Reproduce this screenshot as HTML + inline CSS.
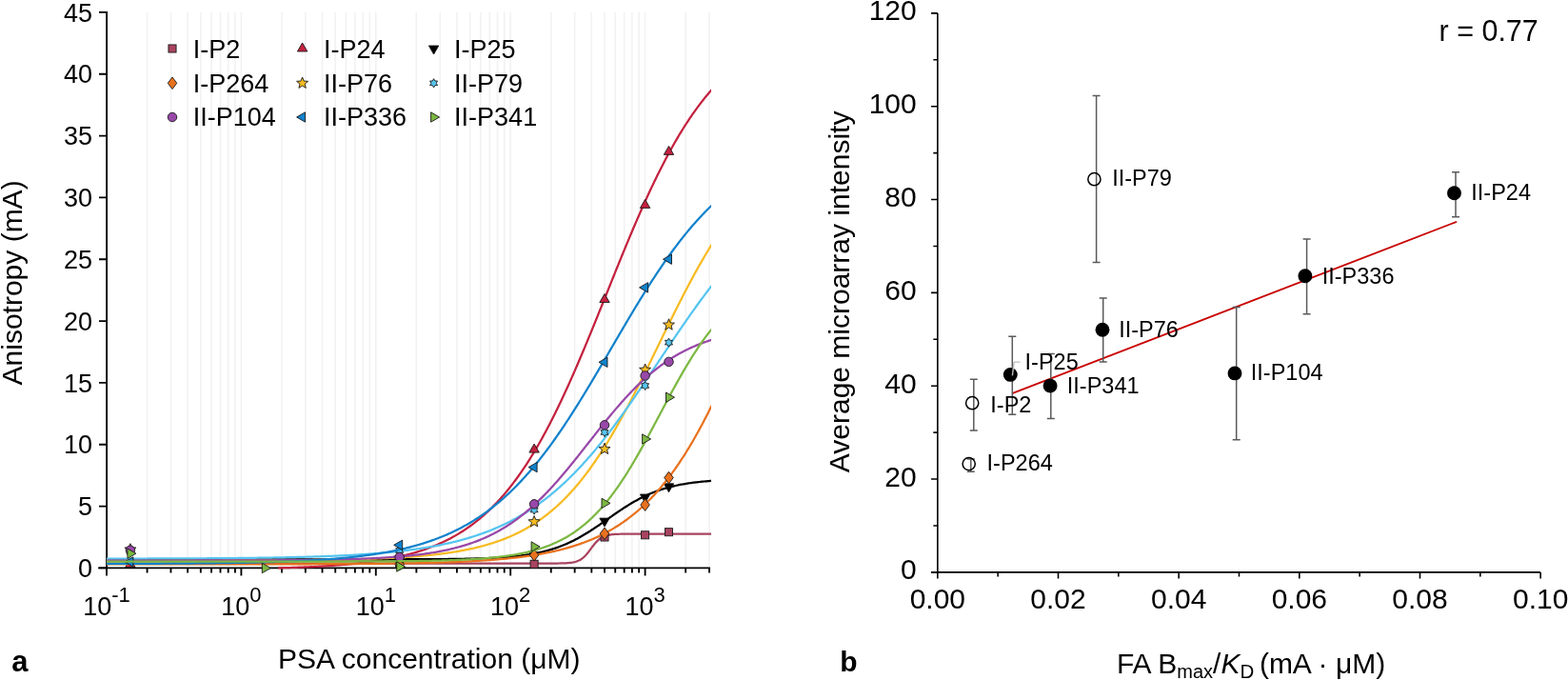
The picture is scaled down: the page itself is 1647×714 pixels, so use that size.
<!DOCTYPE html>
<html><head><meta charset="utf-8"><title>Figure</title><style>html,body{margin:0;padding:0;background:#fff;width:1647px;height:714px;overflow:hidden}</style></head><body>
<svg width="1647" height="714" viewBox="0 0 1647 714" style="display:block">
<rect width="1647" height="714" fill="#fff"/>
<defs><clipPath id="lc"><rect x="112.00" y="9.88" width="635.00" height="591.51"/></clipPath></defs>
<path d="M154.57 12.88V596.40M179.46 12.88V596.40M197.13 12.88V596.40M210.83 12.88V596.40M222.03 12.88V596.40M231.50 12.88V596.40M239.70 12.88V596.40M246.93 12.88V596.40M253.40 12.88V596.40M295.97 12.88V596.40M320.86 12.88V596.40M338.53 12.88V596.40M352.23 12.88V596.40M363.43 12.88V596.40M372.90 12.88V596.40M381.10 12.88V596.40M388.33 12.88V596.40M394.80 12.88V596.40M437.37 12.88V596.40M462.26 12.88V596.40M479.93 12.88V596.40M493.63 12.88V596.40M504.83 12.88V596.40M514.30 12.88V596.40M522.50 12.88V596.40M529.73 12.88V596.40M536.20 12.88V596.40M578.77 12.88V596.40M603.66 12.88V596.40M621.33 12.88V596.40M635.03 12.88V596.40M646.23 12.88V596.40M655.70 12.88V596.40M663.90 12.88V596.40M671.13 12.88V596.40M677.60 12.88V596.40M720.17 12.88V596.40M745.06 12.88V596.40" stroke="#f2f2f2" stroke-width="1.6" fill="none"/>
<rect x="176.95" y="46.95" width="8.10" height="8.10" fill="#a8445f" stroke="#1a1a1a" stroke-width="0.9"/>
<text x="202.7" y="61.2" font-family="'Liberation Sans', Arial, Helvetica, sans-serif" font-size="27">I-P2</text>
<polygon points="317.60,45.00 322.80,54.00 312.40,54.00" fill="#c4213f" stroke="#1a1a1a" stroke-width="0.9" stroke-linejoin="miter"/>
<text x="339.9" y="61.2" font-family="'Liberation Sans', Arial, Helvetica, sans-serif" font-size="27">I-P24</text>
<polygon points="455.60,57.00 460.80,48.00 450.40,48.00" fill="#000000" stroke="#1a1a1a" stroke-width="0.9" stroke-linejoin="miter"/>
<text x="477.1" y="61.2" font-family="'Liberation Sans', Arial, Helvetica, sans-serif" font-size="27">I-P25</text>
<polygon points="181.00,81.00 185.75,87.30 181.00,93.60 176.25,87.30" fill="#e9711d" stroke="#1a1a1a" stroke-width="0.9" stroke-linejoin="miter"/>
<text x="202.7" y="96.8" font-family="'Liberation Sans', Arial, Helvetica, sans-serif" font-size="27">I-P264</text>
<polygon points="317.60,81.00 319.22,85.08 323.59,85.35 320.22,88.15 321.30,92.40 317.60,90.05 313.90,92.40 314.98,88.15 311.61,85.35 315.98,85.08" fill="#f7bb22" stroke="#1a1a1a" stroke-width="0.9" stroke-linejoin="miter"/>
<text x="339.9" y="96.8" font-family="'Liberation Sans', Arial, Helvetica, sans-serif" font-size="27">II-P76</text>
<polygon points="455.60,82.70 456.93,85.01 459.58,85.00 458.25,87.30 459.58,89.60 456.93,89.59 455.60,91.90 454.28,89.59 451.62,89.60 452.95,87.30 451.62,85.00 454.28,85.01" fill="#56c5f0" stroke="#1a1a1a" stroke-width="0.9" stroke-linejoin="miter"/>
<text x="477.1" y="96.8" font-family="'Liberation Sans', Arial, Helvetica, sans-serif" font-size="27">II-P79</text>
<circle cx="181.00" cy="123.00" r="4.75" fill="#9848a8" stroke="#1a1a1a" stroke-width="0.9"/>
<text x="202.7" y="132.4" font-family="'Liberation Sans', Arial, Helvetica, sans-serif" font-size="27">II-P104</text>
<polygon points="311.60,123.00 320.60,117.80 320.60,128.20" fill="#1282cc" stroke="#1a1a1a" stroke-width="0.9" stroke-linejoin="miter"/>
<text x="339.9" y="132.4" font-family="'Liberation Sans', Arial, Helvetica, sans-serif" font-size="27">II-P336</text>
<polygon points="461.60,123.00 452.60,117.80 452.60,128.20" fill="#7cb842" stroke="#1a1a1a" stroke-width="0.9" stroke-linejoin="miter"/>
<text x="477.1" y="132.4" font-family="'Liberation Sans', Arial, Helvetica, sans-serif" font-size="27">II-P341</text>
<path d="M112.10 12.88V596.40M104.00 596.40H745.06" stroke="#000" stroke-width="1.85" fill="none" stroke-linecap="square"/>
<path d="M104.00 596.40H112.00M104.00 531.56H112.00M104.00 466.73H112.00M104.00 401.89H112.00M104.00 337.06H112.00M104.00 272.22H112.00M104.00 207.39H112.00M104.00 142.55H112.00M104.00 77.72H112.00M104.00 12.88H112.00M112.00 596.40V604.50M154.57 596.40V601.40M179.46 596.40V601.40M197.13 596.40V601.40M210.83 596.40V601.40M222.03 596.40V601.40M231.50 596.40V601.40M239.70 596.40V601.40M246.93 596.40V601.40M253.40 596.40V604.50M295.97 596.40V601.40M320.86 596.40V601.40M338.53 596.40V601.40M352.23 596.40V601.40M363.43 596.40V601.40M372.90 596.40V601.40M381.10 596.40V601.40M388.33 596.40V601.40M394.80 596.40V604.50M437.37 596.40V601.40M462.26 596.40V601.40M479.93 596.40V601.40M493.63 596.40V601.40M504.83 596.40V601.40M514.30 596.40V601.40M522.50 596.40V601.40M529.73 596.40V601.40M536.20 596.40V604.50M578.77 596.40V601.40M603.66 596.40V601.40M621.33 596.40V601.40M635.03 596.40V601.40M646.23 596.40V601.40M655.70 596.40V601.40M663.90 596.40V601.40M671.13 596.40V601.40M677.60 596.40V604.50M720.17 596.40V601.40M745.06 596.40V601.40" stroke="#000" stroke-width="1.85" fill="none"/>
<g>
<path d="M112.00 591.58 L113.27 591.58 L114.55 591.58 L115.82 591.58 L117.09 591.58 L118.37 591.58 L119.64 591.58 L120.91 591.58 L122.19 591.58 L123.46 591.58 L124.74 591.58 L126.01 591.58 L127.28 591.58 L128.56 591.58 L129.83 591.58 L131.10 591.58 L132.38 591.58 L133.65 591.58 L134.92 591.58 L136.20 591.58 L137.47 591.58 L138.74 591.58 L140.02 591.58 L141.29 591.58 L142.57 591.58 L143.84 591.58 L145.11 591.58 L146.39 591.58 L147.66 591.58 L148.93 591.58 L150.21 591.58 L151.48 591.58 L152.75 591.58 L154.03 591.58 L155.30 591.58 L156.57 591.58 L157.85 591.58 L159.12 591.58 L160.39 591.58 L161.67 591.58 L162.94 591.58 L164.22 591.58 L165.49 591.58 L166.76 591.58 L168.04 591.58 L169.31 591.58 L170.58 591.58 L171.86 591.58 L173.13 591.58 L174.40 591.58 L175.68 591.58 L176.95 591.58 L178.22 591.58 L179.50 591.58 L180.77 591.58 L182.05 591.58 L183.32 591.58 L184.59 591.58 L185.87 591.58 L187.14 591.58 L188.41 591.58 L189.69 591.58 L190.96 591.58 L192.23 591.58 L193.51 591.58 L194.78 591.58 L196.05 591.58 L197.33 591.58 L198.60 591.58 L199.87 591.58 L201.15 591.58 L202.42 591.58 L203.70 591.58 L204.97 591.58 L206.24 591.58 L207.52 591.58 L208.79 591.58 L210.06 591.58 L211.34 591.58 L212.61 591.58 L213.88 591.58 L215.16 591.58 L216.43 591.58 L217.70 591.58 L218.98 591.58 L220.25 591.58 L221.53 591.58 L222.80 591.58 L224.07 591.58 L225.35 591.58 L226.62 591.58 L227.89 591.58 L229.17 591.58 L230.44 591.58 L231.71 591.58 L232.99 591.58 L234.26 591.58 L235.53 591.58 L236.81 591.58 L238.08 591.58 L239.35 591.58 L240.63 591.58 L241.90 591.58 L243.18 591.58 L244.45 591.58 L245.72 591.58 L247.00 591.58 L248.27 591.58 L249.54 591.58 L250.82 591.58 L252.09 591.58 L253.36 591.58 L254.64 591.58 L255.91 591.58 L257.18 591.58 L258.46 591.58 L259.73 591.58 L261.01 591.58 L262.28 591.58 L263.55 591.58 L264.83 591.58 L266.10 591.58 L267.37 591.58 L268.65 591.58 L269.92 591.58 L271.19 591.58 L272.47 591.58 L273.74 591.58 L275.01 591.58 L276.29 591.58 L277.56 591.58 L278.83 591.58 L280.11 591.58 L281.38 591.58 L282.66 591.58 L283.93 591.58 L285.20 591.58 L286.48 591.58 L287.75 591.58 L289.02 591.58 L290.30 591.58 L291.57 591.58 L292.84 591.58 L294.12 591.58 L295.39 591.58 L296.66 591.58 L297.94 591.58 L299.21 591.58 L300.48 591.58 L301.76 591.58 L303.03 591.58 L304.31 591.58 L305.58 591.58 L306.85 591.58 L308.13 591.58 L309.40 591.58 L310.67 591.58 L311.95 591.58 L313.22 591.58 L314.49 591.58 L315.77 591.58 L317.04 591.58 L318.31 591.58 L319.59 591.58 L320.86 591.58 L322.14 591.58 L323.41 591.58 L324.68 591.58 L325.96 591.58 L327.23 591.58 L328.50 591.58 L329.78 591.58 L331.05 591.58 L332.32 591.58 L333.60 591.58 L334.87 591.58 L336.14 591.58 L337.42 591.58 L338.69 591.58 L339.96 591.58 L341.24 591.58 L342.51 591.58 L343.79 591.58 L345.06 591.58 L346.33 591.58 L347.61 591.58 L348.88 591.58 L350.15 591.58 L351.43 591.58 L352.70 591.58 L353.97 591.58 L355.25 591.58 L356.52 591.58 L357.79 591.58 L359.07 591.58 L360.34 591.58 L361.62 591.58 L362.89 591.58 L364.16 591.58 L365.44 591.58 L366.71 591.58 L367.98 591.58 L369.26 591.58 L370.53 591.58 L371.80 591.58 L373.08 591.58 L374.35 591.58 L375.62 591.58 L376.90 591.58 L378.17 591.58 L379.44 591.58 L380.72 591.58 L381.99 591.58 L383.27 591.58 L384.54 591.58 L385.81 591.58 L387.09 591.58 L388.36 591.58 L389.63 591.58 L390.91 591.58 L392.18 591.58 L393.45 591.58 L394.73 591.58 L396.00 591.58 L397.27 591.58 L398.55 591.58 L399.82 591.58 L401.10 591.58 L402.37 591.58 L403.64 591.58 L404.92 591.58 L406.19 591.58 L407.46 591.58 L408.74 591.58 L410.01 591.58 L411.28 591.58 L412.56 591.58 L413.83 591.58 L415.10 591.58 L416.38 591.58 L417.65 591.58 L418.92 591.58 L420.20 591.58 L421.47 591.58 L422.75 591.58 L424.02 591.58 L425.29 591.58 L426.57 591.58 L427.84 591.58 L429.11 591.58 L430.39 591.58 L431.66 591.58 L432.93 591.58 L434.21 591.58 L435.48 591.58 L436.75 591.58 L438.03 591.58 L439.30 591.58 L440.58 591.58 L441.85 591.58 L443.12 591.58 L444.40 591.58 L445.67 591.58 L446.94 591.58 L448.22 591.58 L449.49 591.58 L450.76 591.58 L452.04 591.58 L453.31 591.58 L454.58 591.58 L455.86 591.58 L457.13 591.58 L458.40 591.58 L459.68 591.58 L460.95 591.58 L462.23 591.58 L463.50 591.58 L464.77 591.58 L466.05 591.58 L467.32 591.58 L468.59 591.58 L469.87 591.58 L471.14 591.58 L472.41 591.58 L473.69 591.58 L474.96 591.58 L476.23 591.58 L477.51 591.58 L478.78 591.58 L480.06 591.58 L481.33 591.58 L482.60 591.58 L483.88 591.58 L485.15 591.58 L486.42 591.58 L487.70 591.58 L488.97 591.58 L490.24 591.58 L491.52 591.58 L492.79 591.58 L494.06 591.58 L495.34 591.58 L496.61 591.58 L497.88 591.58 L499.16 591.58 L500.43 591.58 L501.71 591.58 L502.98 591.58 L504.25 591.58 L505.53 591.58 L506.80 591.58 L508.07 591.58 L509.35 591.58 L510.62 591.58 L511.89 591.58 L513.17 591.58 L514.44 591.58 L515.71 591.58 L516.99 591.58 L518.26 591.58 L519.54 591.58 L520.81 591.58 L522.08 591.58 L523.36 591.58 L524.63 591.58 L525.90 591.58 L527.18 591.58 L528.45 591.58 L529.72 591.58 L531.00 591.58 L532.27 591.58 L533.54 591.58 L534.82 591.58 L536.09 591.58 L537.36 591.58 L538.64 591.58 L539.91 591.58 L541.19 591.58 L542.46 591.58 L543.73 591.58 L545.01 591.58 L546.28 591.58 L547.55 591.58 L548.83 591.58 L550.10 591.58 L551.37 591.58 L552.65 591.58 L553.92 591.58 L555.19 591.58 L556.47 591.58 L557.74 591.58 L559.02 591.58 L560.29 591.58 L561.56 591.58 L562.84 591.58 L564.11 591.58 L565.38 591.58 L566.66 591.58 L567.93 591.58 L569.20 591.58 L570.48 591.58 L571.75 591.58 L573.02 591.58 L574.30 591.57 L575.57 591.57 L576.84 591.57 L578.12 591.57 L579.39 591.56 L580.67 591.55 L581.94 591.55 L583.21 591.54 L584.49 591.53 L585.76 591.51 L587.03 591.50 L588.31 591.47 L589.58 591.45 L590.85 591.41 L592.13 591.37 L593.40 591.32 L594.67 591.26 L595.95 591.18 L597.22 591.08 L598.49 590.95 L599.77 590.80 L601.04 590.61 L602.32 590.38 L603.59 590.10 L604.86 589.75 L606.14 589.33 L607.41 588.82 L608.68 588.21 L609.96 587.48 L611.23 586.63 L612.50 585.63 L613.78 584.50 L615.05 583.21 L616.32 581.79 L617.60 580.25 L618.87 578.62 L620.15 576.92 L621.42 575.20 L622.69 573.51 L623.97 571.88 L625.24 570.34 L626.51 568.92 L627.79 567.64 L629.06 566.50 L630.33 565.51 L631.61 564.66 L632.88 563.94 L634.15 563.33 L635.43 562.82 L636.70 562.40 L637.97 562.06 L639.25 561.77 L640.52 561.54 L641.80 561.36 L643.07 561.21 L644.34 561.08 L645.62 560.98 L646.89 560.90 L648.16 560.84 L649.44 560.79 L650.71 560.75 L651.98 560.71 L653.26 560.69 L654.53 560.66 L655.80 560.65 L657.08 560.63 L658.35 560.62 L659.63 560.61 L660.90 560.61 L662.17 560.60 L663.45 560.60 L664.72 560.59 L665.99 560.59 L667.27 560.59 L668.54 560.59 L669.81 560.58 L671.09 560.58 L672.36 560.58 L673.63 560.58 L674.91 560.58 L676.18 560.58 L677.45 560.58 L678.73 560.58 L680.00 560.58 L681.28 560.58 L682.55 560.58 L683.82 560.58 L685.10 560.58 L686.37 560.58 L687.64 560.58 L688.92 560.58 L690.19 560.58 L691.46 560.58 L692.74 560.58 L694.01 560.58 L695.28 560.58 L696.56 560.58 L697.83 560.58 L699.11 560.58 L700.38 560.58 L701.65 560.58 L702.93 560.58 L704.20 560.58 L705.47 560.58 L706.75 560.58 L708.02 560.58 L709.29 560.58 L710.57 560.58 L711.84 560.58 L713.11 560.58 L714.39 560.58 L715.66 560.58 L716.93 560.58 L718.21 560.58 L719.48 560.58 L720.76 560.58 L722.03 560.58 L723.30 560.58 L724.58 560.58 L725.85 560.58 L727.12 560.58 L728.40 560.58 L729.67 560.58 L730.94 560.58 L732.22 560.58 L733.49 560.58 L734.76 560.58 L736.04 560.58 L737.31 560.58 L738.59 560.58 L739.86 560.58 L741.13 560.58 L742.41 560.58 L743.68 560.58 L744.95 560.58 L746.23 560.58 L747.50 560.58" fill="none" stroke="#a8445f" stroke-width="2.25" stroke-linejoin="round" clip-path="url(#lc)"/>
<rect x="415.65" y="587.95" width="8.10" height="8.10" fill="#a8445f" stroke="#1a1a1a" stroke-width="0.9"/>
<rect x="557.05" y="588.25" width="8.10" height="8.10" fill="#a8445f" stroke="#1a1a1a" stroke-width="0.9"/>
<rect x="630.98" y="559.95" width="8.10" height="8.10" fill="#a8445f" stroke="#1a1a1a" stroke-width="0.9"/>
<rect x="673.55" y="557.75" width="8.10" height="8.10" fill="#a8445f" stroke="#1a1a1a" stroke-width="0.9"/>
<rect x="698.45" y="554.65" width="8.10" height="8.10" fill="#a8445f" stroke="#1a1a1a" stroke-width="0.9"/>
<path d="M292.09 596.40 L292.84 596.38 L294.12 596.35 L295.39 596.31 L296.66 596.27 L297.94 596.24 L299.21 596.20 L300.48 596.16 L301.76 596.12 L303.03 596.08 L304.31 596.04 L305.58 596.00 L306.85 595.96 L308.13 595.91 L309.40 595.87 L310.67 595.82 L311.95 595.78 L313.22 595.73 L314.49 595.68 L315.77 595.63 L317.04 595.58 L318.31 595.53 L319.59 595.47 L320.86 595.42 L322.14 595.36 L323.41 595.31 L324.68 595.25 L325.96 595.19 L327.23 595.13 L328.50 595.07 L329.78 595.00 L331.05 594.94 L332.32 594.87 L333.60 594.80 L334.87 594.74 L336.14 594.67 L337.42 594.59 L338.69 594.52 L339.96 594.44 L341.24 594.37 L342.51 594.29 L343.79 594.21 L345.06 594.13 L346.33 594.04 L347.61 593.96 L348.88 593.87 L350.15 593.78 L351.43 593.69 L352.70 593.60 L353.97 593.50 L355.25 593.40 L356.52 593.30 L357.79 593.20 L359.07 593.10 L360.34 592.99 L361.62 592.88 L362.89 592.77 L364.16 592.66 L365.44 592.54 L366.71 592.42 L367.98 592.30 L369.26 592.18 L370.53 592.05 L371.80 591.93 L373.08 591.79 L374.35 591.66 L375.62 591.52 L376.90 591.38 L378.17 591.24 L379.44 591.09 L380.72 590.94 L381.99 590.79 L383.27 590.63 L384.54 590.47 L385.81 590.31 L387.09 590.14 L388.36 589.97 L389.63 589.80 L390.91 589.62 L392.18 589.44 L393.45 589.26 L394.73 589.07 L396.00 588.87 L397.27 588.68 L398.55 588.48 L399.82 588.27 L401.10 588.06 L402.37 587.84 L403.64 587.63 L404.92 587.40 L406.19 587.17 L407.46 586.94 L408.74 586.70 L410.01 586.46 L411.28 586.21 L412.56 585.95 L413.83 585.69 L415.10 585.43 L416.38 585.16 L417.65 584.88 L418.92 584.60 L420.20 584.31 L421.47 584.02 L422.75 583.72 L424.02 583.41 L425.29 583.10 L426.57 582.78 L427.84 582.45 L429.11 582.12 L430.39 581.78 L431.66 581.43 L432.93 581.08 L434.21 580.72 L435.48 580.35 L436.75 579.97 L438.03 579.59 L439.30 579.19 L440.58 578.79 L441.85 578.38 L443.12 577.97 L444.40 577.54 L445.67 577.10 L446.94 576.66 L448.22 576.21 L449.49 575.75 L450.76 575.27 L452.04 574.79 L453.31 574.30 L454.58 573.80 L455.86 573.29 L457.13 572.77 L458.40 572.24 L459.68 571.69 L460.95 571.14 L462.23 570.58 L463.50 570.00 L464.77 569.41 L466.05 568.81 L467.32 568.20 L468.59 567.58 L469.87 566.94 L471.14 566.30 L472.41 565.64 L473.69 564.96 L474.96 564.28 L476.23 563.58 L477.51 562.86 L478.78 562.13 L480.06 561.39 L481.33 560.64 L482.60 559.87 L483.88 559.08 L485.15 558.28 L486.42 557.46 L487.70 556.63 L488.97 555.79 L490.24 554.92 L491.52 554.05 L492.79 553.15 L494.06 552.24 L495.34 551.31 L496.61 550.36 L497.88 549.40 L499.16 548.42 L500.43 547.42 L501.71 546.40 L502.98 545.36 L504.25 544.31 L505.53 543.23 L506.80 542.14 L508.07 541.03 L509.35 539.90 L510.62 538.74 L511.89 537.57 L513.17 536.38 L514.44 535.17 L515.71 533.93 L516.99 532.68 L518.26 531.40 L519.54 530.10 L520.81 528.78 L522.08 527.44 L523.36 526.07 L524.63 524.68 L525.90 523.27 L527.18 521.84 L528.45 520.38 L529.72 518.90 L531.00 517.39 L532.27 515.87 L533.54 514.31 L534.82 512.74 L536.09 511.13 L537.36 509.51 L538.64 507.86 L539.91 506.18 L541.19 504.48 L542.46 502.75 L543.73 501.00 L545.01 499.22 L546.28 497.42 L547.55 495.59 L548.83 493.73 L550.10 491.85 L551.37 489.94 L552.65 488.01 L553.92 486.05 L555.19 484.06 L556.47 482.04 L557.74 480.00 L559.02 477.94 L560.29 475.84 L561.56 473.72 L562.84 471.57 L564.11 469.40 L565.38 467.20 L566.66 464.97 L567.93 462.72 L569.20 460.44 L570.48 458.13 L571.75 455.80 L573.02 453.44 L574.30 451.06 L575.57 448.65 L576.84 446.21 L578.12 443.75 L579.39 441.26 L580.67 438.75 L581.94 436.21 L583.21 433.65 L584.49 431.06 L585.76 428.45 L587.03 425.82 L588.31 423.16 L589.58 420.48 L590.85 417.78 L592.13 415.05 L593.40 412.30 L594.67 409.53 L595.95 406.74 L597.22 403.93 L598.49 401.10 L599.77 398.25 L601.04 395.38 L602.32 392.49 L603.59 389.58 L604.86 386.65 L606.14 383.71 L607.41 380.75 L608.68 377.77 L609.96 374.78 L611.23 371.77 L612.50 368.74 L613.78 365.71 L615.05 362.66 L616.32 359.60 L617.60 356.52 L618.87 353.44 L620.15 350.34 L621.42 347.24 L622.69 344.12 L623.97 341.00 L625.24 337.87 L626.51 334.73 L627.79 331.59 L629.06 328.44 L630.33 325.28 L631.61 322.12 L632.88 318.96 L634.15 315.80 L635.43 312.63 L636.70 309.47 L637.97 306.30 L639.25 303.13 L640.52 299.97 L641.80 296.80 L643.07 293.64 L644.34 290.48 L645.62 287.33 L646.89 284.18 L648.16 281.04 L649.44 277.90 L650.71 274.77 L651.98 271.65 L653.26 268.54 L654.53 265.44 L655.80 262.34 L657.08 259.26 L658.35 256.19 L659.63 253.13 L660.90 250.08 L662.17 247.05 L663.45 244.03 L664.72 241.03 L665.99 238.04 L667.27 235.06 L668.54 232.11 L669.81 229.17 L671.09 226.24 L672.36 223.34 L673.63 220.45 L674.91 217.59 L676.18 214.74 L677.45 211.91 L678.73 209.10 L680.00 206.32 L681.28 203.55 L682.55 200.81 L683.82 198.09 L685.10 195.39 L686.37 192.72 L687.64 190.06 L688.92 187.44 L690.19 184.83 L691.46 182.25 L692.74 179.69 L694.01 177.16 L695.28 174.66 L696.56 172.17 L697.83 169.72 L699.11 167.29 L700.38 164.88 L701.65 162.50 L702.93 160.15 L704.20 157.82 L705.47 155.52 L706.75 153.25 L708.02 151.00 L709.29 148.78 L710.57 146.59 L711.84 144.42 L713.11 142.28 L714.39 140.16 L715.66 138.07 L716.93 136.01 L718.21 133.98 L719.48 131.97 L720.76 129.99 L722.03 128.03 L723.30 126.11 L724.58 124.20 L725.85 122.33 L727.12 120.48 L728.40 118.65 L729.67 116.86 L730.94 115.08 L732.22 113.34 L733.49 111.62 L734.76 109.92 L736.04 108.25 L737.31 106.60 L738.59 104.98 L739.86 103.39 L741.13 101.82 L742.41 100.27 L743.68 98.75 L744.95 97.25 L746.23 95.77 L747.50 94.32" fill="none" stroke="#c4213f" stroke-width="2.25" stroke-linejoin="round" clip-path="url(#lc)"/>
<polygon points="136.90,586.60 142.10,595.60 131.70,595.60" fill="#c4213f" stroke="#1a1a1a" stroke-width="0.9" stroke-linejoin="miter"/>
<polygon points="419.70,577.50 424.90,586.50 414.50,586.50" fill="#c4213f" stroke="#1a1a1a" stroke-width="0.9" stroke-linejoin="miter"/>
<polygon points="561.10,466.10 566.30,475.10 555.90,475.10" fill="#c4213f" stroke="#1a1a1a" stroke-width="0.9" stroke-linejoin="miter"/>
<polygon points="635.03,308.50 640.23,317.50 629.83,317.50" fill="#c4213f" stroke="#1a1a1a" stroke-width="0.9" stroke-linejoin="miter"/>
<polygon points="677.60,209.40 682.80,218.40 672.40,218.40" fill="#c4213f" stroke="#1a1a1a" stroke-width="0.9" stroke-linejoin="miter"/>
<polygon points="702.50,153.40 707.70,162.40 697.30,162.40" fill="#c4213f" stroke="#1a1a1a" stroke-width="0.9" stroke-linejoin="miter"/>
<path d="M112.00 587.32 L113.27 587.32 L114.55 587.32 L115.82 587.32 L117.09 587.32 L118.37 587.32 L119.64 587.32 L120.91 587.32 L122.19 587.32 L123.46 587.32 L124.74 587.32 L126.01 587.32 L127.28 587.32 L128.56 587.32 L129.83 587.32 L131.10 587.32 L132.38 587.32 L133.65 587.32 L134.92 587.32 L136.20 587.32 L137.47 587.32 L138.74 587.32 L140.02 587.32 L141.29 587.32 L142.57 587.32 L143.84 587.32 L145.11 587.32 L146.39 587.32 L147.66 587.32 L148.93 587.32 L150.21 587.32 L151.48 587.32 L152.75 587.32 L154.03 587.32 L155.30 587.32 L156.57 587.32 L157.85 587.32 L159.12 587.32 L160.39 587.32 L161.67 587.32 L162.94 587.32 L164.22 587.32 L165.49 587.32 L166.76 587.32 L168.04 587.32 L169.31 587.32 L170.58 587.32 L171.86 587.32 L173.13 587.32 L174.40 587.32 L175.68 587.32 L176.95 587.32 L178.22 587.32 L179.50 587.32 L180.77 587.32 L182.05 587.32 L183.32 587.32 L184.59 587.32 L185.87 587.32 L187.14 587.32 L188.41 587.32 L189.69 587.32 L190.96 587.32 L192.23 587.32 L193.51 587.32 L194.78 587.32 L196.05 587.32 L197.33 587.32 L198.60 587.32 L199.87 587.32 L201.15 587.32 L202.42 587.32 L203.70 587.32 L204.97 587.32 L206.24 587.32 L207.52 587.32 L208.79 587.32 L210.06 587.32 L211.34 587.32 L212.61 587.32 L213.88 587.32 L215.16 587.32 L216.43 587.32 L217.70 587.32 L218.98 587.32 L220.25 587.32 L221.53 587.32 L222.80 587.32 L224.07 587.32 L225.35 587.32 L226.62 587.32 L227.89 587.32 L229.17 587.32 L230.44 587.32 L231.71 587.32 L232.99 587.32 L234.26 587.32 L235.53 587.32 L236.81 587.32 L238.08 587.32 L239.35 587.32 L240.63 587.32 L241.90 587.32 L243.18 587.32 L244.45 587.32 L245.72 587.32 L247.00 587.32 L248.27 587.32 L249.54 587.32 L250.82 587.32 L252.09 587.32 L253.36 587.32 L254.64 587.32 L255.91 587.32 L257.18 587.32 L258.46 587.32 L259.73 587.32 L261.01 587.32 L262.28 587.32 L263.55 587.32 L264.83 587.32 L266.10 587.32 L267.37 587.32 L268.65 587.32 L269.92 587.32 L271.19 587.32 L272.47 587.32 L273.74 587.32 L275.01 587.32 L276.29 587.32 L277.56 587.32 L278.83 587.32 L280.11 587.32 L281.38 587.32 L282.66 587.32 L283.93 587.32 L285.20 587.32 L286.48 587.32 L287.75 587.32 L289.02 587.32 L290.30 587.32 L291.57 587.32 L292.84 587.32 L294.12 587.32 L295.39 587.32 L296.66 587.32 L297.94 587.32 L299.21 587.32 L300.48 587.32 L301.76 587.32 L303.03 587.32 L304.31 587.32 L305.58 587.32 L306.85 587.32 L308.13 587.32 L309.40 587.32 L310.67 587.32 L311.95 587.32 L313.22 587.32 L314.49 587.32 L315.77 587.32 L317.04 587.32 L318.31 587.32 L319.59 587.32 L320.86 587.32 L322.14 587.32 L323.41 587.32 L324.68 587.32 L325.96 587.32 L327.23 587.32 L328.50 587.32 L329.78 587.32 L331.05 587.32 L332.32 587.32 L333.60 587.32 L334.87 587.32 L336.14 587.32 L337.42 587.32 L338.69 587.32 L339.96 587.32 L341.24 587.32 L342.51 587.32 L343.79 587.32 L345.06 587.32 L346.33 587.31 L347.61 587.31 L348.88 587.31 L350.15 587.31 L351.43 587.31 L352.70 587.31 L353.97 587.31 L355.25 587.31 L356.52 587.31 L357.79 587.31 L359.07 587.31 L360.34 587.31 L361.62 587.31 L362.89 587.31 L364.16 587.31 L365.44 587.31 L366.71 587.31 L367.98 587.31 L369.26 587.31 L370.53 587.31 L371.80 587.31 L373.08 587.31 L374.35 587.31 L375.62 587.31 L376.90 587.31 L378.17 587.30 L379.44 587.30 L380.72 587.30 L381.99 587.30 L383.27 587.30 L384.54 587.30 L385.81 587.30 L387.09 587.30 L388.36 587.30 L389.63 587.30 L390.91 587.30 L392.18 587.30 L393.45 587.29 L394.73 587.29 L396.00 587.29 L397.27 587.29 L398.55 587.29 L399.82 587.29 L401.10 587.29 L402.37 587.29 L403.64 587.28 L404.92 587.28 L406.19 587.28 L407.46 587.28 L408.74 587.28 L410.01 587.28 L411.28 587.27 L412.56 587.27 L413.83 587.27 L415.10 587.27 L416.38 587.27 L417.65 587.26 L418.92 587.26 L420.20 587.26 L421.47 587.26 L422.75 587.25 L424.02 587.25 L425.29 587.25 L426.57 587.24 L427.84 587.24 L429.11 587.24 L430.39 587.23 L431.66 587.23 L432.93 587.23 L434.21 587.22 L435.48 587.22 L436.75 587.21 L438.03 587.21 L439.30 587.21 L440.58 587.20 L441.85 587.20 L443.12 587.19 L444.40 587.18 L445.67 587.18 L446.94 587.17 L448.22 587.17 L449.49 587.16 L450.76 587.15 L452.04 587.14 L453.31 587.14 L454.58 587.13 L455.86 587.12 L457.13 587.11 L458.40 587.10 L459.68 587.09 L460.95 587.08 L462.23 587.07 L463.50 587.06 L464.77 587.05 L466.05 587.04 L467.32 587.03 L468.59 587.02 L469.87 587.00 L471.14 586.99 L472.41 586.98 L473.69 586.96 L474.96 586.95 L476.23 586.93 L477.51 586.91 L478.78 586.90 L480.06 586.88 L481.33 586.86 L482.60 586.84 L483.88 586.82 L485.15 586.80 L486.42 586.77 L487.70 586.75 L488.97 586.73 L490.24 586.70 L491.52 586.67 L492.79 586.65 L494.06 586.62 L495.34 586.59 L496.61 586.56 L497.88 586.52 L499.16 586.49 L500.43 586.46 L501.71 586.42 L502.98 586.38 L504.25 586.34 L505.53 586.30 L506.80 586.25 L508.07 586.21 L509.35 586.16 L510.62 586.11 L511.89 586.06 L513.17 586.01 L514.44 585.95 L515.71 585.89 L516.99 585.83 L518.26 585.77 L519.54 585.70 L520.81 585.64 L522.08 585.57 L523.36 585.49 L524.63 585.41 L525.90 585.33 L527.18 585.25 L528.45 585.16 L529.72 585.07 L531.00 584.98 L532.27 584.88 L533.54 584.78 L534.82 584.67 L536.09 584.56 L537.36 584.45 L538.64 584.33 L539.91 584.20 L541.19 584.07 L542.46 583.94 L543.73 583.80 L545.01 583.65 L546.28 583.50 L547.55 583.34 L548.83 583.18 L550.10 583.01 L551.37 582.84 L552.65 582.65 L553.92 582.46 L555.19 582.27 L556.47 582.06 L557.74 581.85 L559.02 581.63 L560.29 581.40 L561.56 581.16 L562.84 580.92 L564.11 580.67 L565.38 580.40 L566.66 580.13 L567.93 579.85 L569.20 579.55 L570.48 579.25 L571.75 578.94 L573.02 578.61 L574.30 578.28 L575.57 577.93 L576.84 577.57 L578.12 577.20 L579.39 576.82 L580.67 576.42 L581.94 576.02 L583.21 575.59 L584.49 575.16 L585.76 574.72 L587.03 574.26 L588.31 573.78 L589.58 573.29 L590.85 572.79 L592.13 572.28 L593.40 571.75 L594.67 571.20 L595.95 570.65 L597.22 570.07 L598.49 569.49 L599.77 568.88 L601.04 568.27 L602.32 567.64 L603.59 566.99 L604.86 566.33 L606.14 565.66 L607.41 564.97 L608.68 564.27 L609.96 563.55 L611.23 562.83 L612.50 562.08 L613.78 561.33 L615.05 560.56 L616.32 559.78 L617.60 558.99 L618.87 558.19 L620.15 557.38 L621.42 556.56 L622.69 555.73 L623.97 554.89 L625.24 554.04 L626.51 553.18 L627.79 552.32 L629.06 551.45 L630.33 550.57 L631.61 549.69 L632.88 548.80 L634.15 547.92 L635.43 547.03 L636.70 546.13 L637.97 545.24 L639.25 544.35 L640.52 543.45 L641.80 542.56 L643.07 541.67 L644.34 540.79 L645.62 539.90 L646.89 539.02 L648.16 538.15 L649.44 537.28 L650.71 536.42 L651.98 535.57 L653.26 534.72 L654.53 533.89 L655.80 533.06 L657.08 532.24 L658.35 531.44 L659.63 530.64 L660.90 529.85 L662.17 529.08 L663.45 528.32 L664.72 527.57 L665.99 526.84 L667.27 526.11 L668.54 525.40 L669.81 524.71 L671.09 524.03 L672.36 523.36 L673.63 522.71 L674.91 522.07 L676.18 521.45 L677.45 520.84 L678.73 520.24 L680.00 519.66 L681.28 519.09 L682.55 518.54 L683.82 518.01 L685.10 517.48 L686.37 516.97 L687.64 516.48 L688.92 516.00 L690.19 515.53 L691.46 515.08 L692.74 514.64 L694.01 514.21 L695.28 513.80 L696.56 513.39 L697.83 513.01 L699.11 512.63 L700.38 512.26 L701.65 511.91 L702.93 511.57 L704.20 511.24 L705.47 510.92 L706.75 510.61 L708.02 510.31 L709.29 510.02 L710.57 509.75 L711.84 509.48 L713.11 509.22 L714.39 508.97 L715.66 508.73 L716.93 508.49 L718.21 508.27 L719.48 508.05 L720.76 507.84 L722.03 507.64 L723.30 507.45 L724.58 507.26 L725.85 507.08 L727.12 506.91 L728.40 506.74 L729.67 506.58 L730.94 506.43 L732.22 506.28 L733.49 506.14 L734.76 506.00 L736.04 505.87 L737.31 505.74 L738.59 505.62 L739.86 505.50 L741.13 505.39 L742.41 505.28 L743.68 505.18 L744.95 505.08 L746.23 504.98 L747.50 504.89" fill="none" stroke="#000000" stroke-width="2.25" stroke-linejoin="round" clip-path="url(#lc)"/>
<polygon points="419.70,598.00 424.90,589.00 414.50,589.00" fill="#000000" stroke="#1a1a1a" stroke-width="0.9" stroke-linejoin="miter"/>
<polygon points="561.10,589.00 566.30,580.00 555.90,580.00" fill="#000000" stroke="#1a1a1a" stroke-width="0.9" stroke-linejoin="miter"/>
<polygon points="635.03,553.10 640.23,544.10 629.83,544.10" fill="#000000" stroke="#1a1a1a" stroke-width="0.9" stroke-linejoin="miter"/>
<polygon points="677.60,528.00 682.80,519.00 672.40,519.00" fill="#000000" stroke="#1a1a1a" stroke-width="0.9" stroke-linejoin="miter"/>
<polygon points="702.50,516.80 707.70,507.80 697.30,507.80" fill="#000000" stroke="#1a1a1a" stroke-width="0.9" stroke-linejoin="miter"/>
<path d="M112.00 592.44 L113.27 592.44 L114.55 592.44 L115.82 592.44 L117.09 592.44 L118.37 592.44 L119.64 592.44 L120.91 592.44 L122.19 592.44 L123.46 592.44 L124.74 592.44 L126.01 592.44 L127.28 592.44 L128.56 592.44 L129.83 592.44 L131.10 592.44 L132.38 592.44 L133.65 592.43 L134.92 592.43 L136.20 592.43 L137.47 592.43 L138.74 592.43 L140.02 592.43 L141.29 592.43 L142.57 592.43 L143.84 592.43 L145.11 592.43 L146.39 592.43 L147.66 592.43 L148.93 592.43 L150.21 592.43 L151.48 592.43 L152.75 592.43 L154.03 592.43 L155.30 592.43 L156.57 592.43 L157.85 592.43 L159.12 592.43 L160.39 592.43 L161.67 592.43 L162.94 592.43 L164.22 592.43 L165.49 592.43 L166.76 592.43 L168.04 592.43 L169.31 592.43 L170.58 592.43 L171.86 592.43 L173.13 592.43 L174.40 592.43 L175.68 592.43 L176.95 592.43 L178.22 592.43 L179.50 592.43 L180.77 592.43 L182.05 592.43 L183.32 592.43 L184.59 592.43 L185.87 592.42 L187.14 592.42 L188.41 592.42 L189.69 592.42 L190.96 592.42 L192.23 592.42 L193.51 592.42 L194.78 592.42 L196.05 592.42 L197.33 592.42 L198.60 592.42 L199.87 592.42 L201.15 592.42 L202.42 592.42 L203.70 592.42 L204.97 592.42 L206.24 592.42 L207.52 592.42 L208.79 592.42 L210.06 592.42 L211.34 592.42 L212.61 592.42 L213.88 592.41 L215.16 592.41 L216.43 592.41 L217.70 592.41 L218.98 592.41 L220.25 592.41 L221.53 592.41 L222.80 592.41 L224.07 592.41 L225.35 592.41 L226.62 592.41 L227.89 592.41 L229.17 592.41 L230.44 592.41 L231.71 592.41 L232.99 592.40 L234.26 592.40 L235.53 592.40 L236.81 592.40 L238.08 592.40 L239.35 592.40 L240.63 592.40 L241.90 592.40 L243.18 592.40 L244.45 592.40 L245.72 592.40 L247.00 592.39 L248.27 592.39 L249.54 592.39 L250.82 592.39 L252.09 592.39 L253.36 592.39 L254.64 592.39 L255.91 592.39 L257.18 592.39 L258.46 592.38 L259.73 592.38 L261.01 592.38 L262.28 592.38 L263.55 592.38 L264.83 592.38 L266.10 592.38 L267.37 592.37 L268.65 592.37 L269.92 592.37 L271.19 592.37 L272.47 592.37 L273.74 592.37 L275.01 592.37 L276.29 592.36 L277.56 592.36 L278.83 592.36 L280.11 592.36 L281.38 592.36 L282.66 592.36 L283.93 592.35 L285.20 592.35 L286.48 592.35 L287.75 592.35 L289.02 592.35 L290.30 592.34 L291.57 592.34 L292.84 592.34 L294.12 592.34 L295.39 592.33 L296.66 592.33 L297.94 592.33 L299.21 592.33 L300.48 592.32 L301.76 592.32 L303.03 592.32 L304.31 592.32 L305.58 592.31 L306.85 592.31 L308.13 592.31 L309.40 592.31 L310.67 592.30 L311.95 592.30 L313.22 592.30 L314.49 592.29 L315.77 592.29 L317.04 592.29 L318.31 592.28 L319.59 592.28 L320.86 592.28 L322.14 592.27 L323.41 592.27 L324.68 592.26 L325.96 592.26 L327.23 592.26 L328.50 592.25 L329.78 592.25 L331.05 592.24 L332.32 592.24 L333.60 592.24 L334.87 592.23 L336.14 592.23 L337.42 592.22 L338.69 592.22 L339.96 592.21 L341.24 592.21 L342.51 592.20 L343.79 592.20 L345.06 592.19 L346.33 592.19 L347.61 592.18 L348.88 592.18 L350.15 592.17 L351.43 592.16 L352.70 592.16 L353.97 592.15 L355.25 592.14 L356.52 592.14 L357.79 592.13 L359.07 592.12 L360.34 592.12 L361.62 592.11 L362.89 592.10 L364.16 592.10 L365.44 592.09 L366.71 592.08 L367.98 592.07 L369.26 592.06 L370.53 592.06 L371.80 592.05 L373.08 592.04 L374.35 592.03 L375.62 592.02 L376.90 592.01 L378.17 592.00 L379.44 591.99 L380.72 591.98 L381.99 591.97 L383.27 591.96 L384.54 591.95 L385.81 591.94 L387.09 591.93 L388.36 591.92 L389.63 591.91 L390.91 591.90 L392.18 591.89 L393.45 591.87 L394.73 591.86 L396.00 591.85 L397.27 591.84 L398.55 591.82 L399.82 591.81 L401.10 591.80 L402.37 591.78 L403.64 591.77 L404.92 591.75 L406.19 591.74 L407.46 591.72 L408.74 591.71 L410.01 591.69 L411.28 591.67 L412.56 591.66 L413.83 591.64 L415.10 591.62 L416.38 591.60 L417.65 591.59 L418.92 591.57 L420.20 591.55 L421.47 591.53 L422.75 591.51 L424.02 591.49 L425.29 591.47 L426.57 591.45 L427.84 591.43 L429.11 591.40 L430.39 591.38 L431.66 591.36 L432.93 591.33 L434.21 591.31 L435.48 591.28 L436.75 591.26 L438.03 591.23 L439.30 591.21 L440.58 591.18 L441.85 591.15 L443.12 591.12 L444.40 591.10 L445.67 591.07 L446.94 591.04 L448.22 591.01 L449.49 590.97 L450.76 590.94 L452.04 590.91 L453.31 590.88 L454.58 590.84 L455.86 590.81 L457.13 590.77 L458.40 590.74 L459.68 590.70 L460.95 590.66 L462.23 590.62 L463.50 590.58 L464.77 590.54 L466.05 590.50 L467.32 590.46 L468.59 590.42 L469.87 590.37 L471.14 590.33 L472.41 590.28 L473.69 590.23 L474.96 590.19 L476.23 590.14 L477.51 590.09 L478.78 590.03 L480.06 589.98 L481.33 589.93 L482.60 589.87 L483.88 589.82 L485.15 589.76 L486.42 589.70 L487.70 589.64 L488.97 589.58 L490.24 589.52 L491.52 589.46 L492.79 589.39 L494.06 589.33 L495.34 589.26 L496.61 589.19 L497.88 589.12 L499.16 589.05 L500.43 588.97 L501.71 588.90 L502.98 588.82 L504.25 588.74 L505.53 588.66 L506.80 588.58 L508.07 588.50 L509.35 588.41 L510.62 588.32 L511.89 588.23 L513.17 588.14 L514.44 588.05 L515.71 587.95 L516.99 587.86 L518.26 587.76 L519.54 587.66 L520.81 587.55 L522.08 587.45 L523.36 587.34 L524.63 587.23 L525.90 587.11 L527.18 587.00 L528.45 586.88 L529.72 586.76 L531.00 586.64 L532.27 586.51 L533.54 586.39 L534.82 586.25 L536.09 586.12 L537.36 585.98 L538.64 585.84 L539.91 585.70 L541.19 585.56 L542.46 585.41 L543.73 585.26 L545.01 585.10 L546.28 584.94 L547.55 584.78 L548.83 584.62 L550.10 584.45 L551.37 584.28 L552.65 584.10 L553.92 583.92 L555.19 583.74 L556.47 583.55 L557.74 583.36 L559.02 583.16 L560.29 582.96 L561.56 582.76 L562.84 582.55 L564.11 582.34 L565.38 582.12 L566.66 581.90 L567.93 581.68 L569.20 581.44 L570.48 581.21 L571.75 580.97 L573.02 580.72 L574.30 580.47 L575.57 580.22 L576.84 579.95 L578.12 579.69 L579.39 579.41 L580.67 579.14 L581.94 578.85 L583.21 578.56 L584.49 578.27 L585.76 577.96 L587.03 577.66 L588.31 577.34 L589.58 577.02 L590.85 576.69 L592.13 576.36 L593.40 576.02 L594.67 575.67 L595.95 575.31 L597.22 574.95 L598.49 574.58 L599.77 574.20 L601.04 573.81 L602.32 573.42 L603.59 573.02 L604.86 572.61 L606.14 572.19 L607.41 571.76 L608.68 571.33 L609.96 570.88 L611.23 570.43 L612.50 569.97 L613.78 569.49 L615.05 569.01 L616.32 568.52 L617.60 568.02 L618.87 567.51 L620.15 566.99 L621.42 566.46 L622.69 565.91 L623.97 565.36 L625.24 564.80 L626.51 564.22 L627.79 563.64 L629.06 563.04 L630.33 562.43 L631.61 561.81 L632.88 561.17 L634.15 560.52 L635.43 559.87 L636.70 559.19 L637.97 558.51 L639.25 557.81 L640.52 557.10 L641.80 556.37 L643.07 555.63 L644.34 554.88 L645.62 554.11 L646.89 553.33 L648.16 552.53 L649.44 551.72 L650.71 550.89 L651.98 550.05 L653.26 549.19 L654.53 548.32 L655.80 547.43 L657.08 546.52 L658.35 545.59 L659.63 544.65 L660.90 543.69 L662.17 542.72 L663.45 541.72 L664.72 540.71 L665.99 539.68 L667.27 538.63 L668.54 537.57 L669.81 536.48 L671.09 535.37 L672.36 534.25 L673.63 533.10 L674.91 531.94 L676.18 530.75 L677.45 529.55 L678.73 528.32 L680.00 527.08 L681.28 525.81 L682.55 524.52 L683.82 523.20 L685.10 521.87 L686.37 520.51 L687.64 519.14 L688.92 517.74 L690.19 516.31 L691.46 514.86 L692.74 513.39 L694.01 511.90 L695.28 510.38 L696.56 508.84 L697.83 507.27 L699.11 505.68 L700.38 504.07 L701.65 502.43 L702.93 500.76 L704.20 499.07 L705.47 497.36 L706.75 495.62 L708.02 493.85 L709.29 492.06 L710.57 490.24 L711.84 488.40 L713.11 486.53 L714.39 484.63 L715.66 482.71 L716.93 480.76 L718.21 478.78 L719.48 476.78 L720.76 474.75 L722.03 472.69 L723.30 470.61 L724.58 468.50 L725.85 466.36 L727.12 464.20 L728.40 462.01 L729.67 459.79 L730.94 457.55 L732.22 455.28 L733.49 452.98 L734.76 450.65 L736.04 448.30 L737.31 445.93 L738.59 443.52 L739.86 441.09 L741.13 438.64 L742.41 436.15 L743.68 433.65 L744.95 431.11 L746.23 428.55 L747.50 425.97" fill="none" stroke="#e9711d" stroke-width="2.25" stroke-linejoin="round" clip-path="url(#lc)"/>
<polygon points="419.70,586.20 424.45,592.50 419.70,598.80 414.95,592.50" fill="#e9711d" stroke="#1a1a1a" stroke-width="0.9" stroke-linejoin="miter"/>
<polygon points="561.10,576.50 565.85,582.80 561.10,589.10 556.35,582.80" fill="#e9711d" stroke="#1a1a1a" stroke-width="0.9" stroke-linejoin="miter"/>
<polygon points="635.03,554.00 639.78,560.30 635.03,566.60 630.28,560.30" fill="#e9711d" stroke="#1a1a1a" stroke-width="0.9" stroke-linejoin="miter"/>
<polygon points="677.60,523.80 682.35,530.10 677.60,536.40 672.85,530.10" fill="#e9711d" stroke="#1a1a1a" stroke-width="0.9" stroke-linejoin="miter"/>
<polygon points="702.50,495.30 707.25,501.60 702.50,507.90 697.75,501.60" fill="#e9711d" stroke="#1a1a1a" stroke-width="0.9" stroke-linejoin="miter"/>
<path d="M112.00 588.59 L113.27 588.59 L114.55 588.59 L115.82 588.59 L117.09 588.59 L118.37 588.59 L119.64 588.59 L120.91 588.59 L122.19 588.59 L123.46 588.59 L124.74 588.59 L126.01 588.59 L127.28 588.59 L128.56 588.59 L129.83 588.59 L131.10 588.59 L132.38 588.59 L133.65 588.59 L134.92 588.59 L136.20 588.59 L137.47 588.59 L138.74 588.59 L140.02 588.59 L141.29 588.59 L142.57 588.58 L143.84 588.58 L145.11 588.58 L146.39 588.58 L147.66 588.58 L148.93 588.58 L150.21 588.58 L151.48 588.58 L152.75 588.58 L154.03 588.58 L155.30 588.58 L156.57 588.58 L157.85 588.58 L159.12 588.58 L160.39 588.58 L161.67 588.58 L162.94 588.58 L164.22 588.57 L165.49 588.57 L166.76 588.57 L168.04 588.57 L169.31 588.57 L170.58 588.57 L171.86 588.57 L173.13 588.57 L174.40 588.57 L175.68 588.57 L176.95 588.57 L178.22 588.57 L179.50 588.56 L180.77 588.56 L182.05 588.56 L183.32 588.56 L184.59 588.56 L185.87 588.56 L187.14 588.56 L188.41 588.56 L189.69 588.56 L190.96 588.56 L192.23 588.55 L193.51 588.55 L194.78 588.55 L196.05 588.55 L197.33 588.55 L198.60 588.55 L199.87 588.55 L201.15 588.54 L202.42 588.54 L203.70 588.54 L204.97 588.54 L206.24 588.54 L207.52 588.54 L208.79 588.54 L210.06 588.53 L211.34 588.53 L212.61 588.53 L213.88 588.53 L215.16 588.53 L216.43 588.53 L217.70 588.52 L218.98 588.52 L220.25 588.52 L221.53 588.52 L222.80 588.52 L224.07 588.51 L225.35 588.51 L226.62 588.51 L227.89 588.51 L229.17 588.50 L230.44 588.50 L231.71 588.50 L232.99 588.50 L234.26 588.49 L235.53 588.49 L236.81 588.49 L238.08 588.49 L239.35 588.48 L240.63 588.48 L241.90 588.48 L243.18 588.47 L244.45 588.47 L245.72 588.47 L247.00 588.46 L248.27 588.46 L249.54 588.46 L250.82 588.45 L252.09 588.45 L253.36 588.45 L254.64 588.44 L255.91 588.44 L257.18 588.44 L258.46 588.43 L259.73 588.43 L261.01 588.42 L262.28 588.42 L263.55 588.42 L264.83 588.41 L266.10 588.41 L267.37 588.40 L268.65 588.40 L269.92 588.39 L271.19 588.39 L272.47 588.38 L273.74 588.38 L275.01 588.37 L276.29 588.37 L277.56 588.36 L278.83 588.35 L280.11 588.35 L281.38 588.34 L282.66 588.34 L283.93 588.33 L285.20 588.32 L286.48 588.32 L287.75 588.31 L289.02 588.30 L290.30 588.30 L291.57 588.29 L292.84 588.28 L294.12 588.27 L295.39 588.27 L296.66 588.26 L297.94 588.25 L299.21 588.24 L300.48 588.23 L301.76 588.22 L303.03 588.22 L304.31 588.21 L305.58 588.20 L306.85 588.19 L308.13 588.18 L309.40 588.17 L310.67 588.16 L311.95 588.15 L313.22 588.14 L314.49 588.13 L315.77 588.11 L317.04 588.10 L318.31 588.09 L319.59 588.08 L320.86 588.07 L322.14 588.05 L323.41 588.04 L324.68 588.03 L325.96 588.01 L327.23 588.00 L328.50 587.99 L329.78 587.97 L331.05 587.96 L332.32 587.94 L333.60 587.93 L334.87 587.91 L336.14 587.89 L337.42 587.88 L338.69 587.86 L339.96 587.84 L341.24 587.83 L342.51 587.81 L343.79 587.79 L345.06 587.77 L346.33 587.75 L347.61 587.73 L348.88 587.71 L350.15 587.69 L351.43 587.67 L352.70 587.64 L353.97 587.62 L355.25 587.60 L356.52 587.58 L357.79 587.55 L359.07 587.53 L360.34 587.50 L361.62 587.48 L362.89 587.45 L364.16 587.42 L365.44 587.40 L366.71 587.37 L367.98 587.34 L369.26 587.31 L370.53 587.28 L371.80 587.25 L373.08 587.22 L374.35 587.18 L375.62 587.15 L376.90 587.12 L378.17 587.08 L379.44 587.05 L380.72 587.01 L381.99 586.97 L383.27 586.93 L384.54 586.90 L385.81 586.86 L387.09 586.81 L388.36 586.77 L389.63 586.73 L390.91 586.69 L392.18 586.64 L393.45 586.60 L394.73 586.55 L396.00 586.50 L397.27 586.45 L398.55 586.40 L399.82 586.35 L401.10 586.30 L402.37 586.24 L403.64 586.19 L404.92 586.13 L406.19 586.08 L407.46 586.02 L408.74 585.96 L410.01 585.90 L411.28 585.83 L412.56 585.77 L413.83 585.70 L415.10 585.63 L416.38 585.57 L417.65 585.49 L418.92 585.42 L420.20 585.35 L421.47 585.27 L422.75 585.20 L424.02 585.12 L425.29 585.04 L426.57 584.95 L427.84 584.87 L429.11 584.78 L430.39 584.69 L431.66 584.60 L432.93 584.51 L434.21 584.41 L435.48 584.32 L436.75 584.22 L438.03 584.12 L439.30 584.01 L440.58 583.91 L441.85 583.80 L443.12 583.69 L444.40 583.57 L445.67 583.46 L446.94 583.34 L448.22 583.21 L449.49 583.09 L450.76 582.96 L452.04 582.83 L453.31 582.70 L454.58 582.56 L455.86 582.42 L457.13 582.28 L458.40 582.13 L459.68 581.99 L460.95 581.83 L462.23 581.68 L463.50 581.52 L464.77 581.35 L466.05 581.19 L467.32 581.02 L468.59 580.84 L469.87 580.66 L471.14 580.48 L472.41 580.30 L473.69 580.10 L474.96 579.91 L476.23 579.71 L477.51 579.51 L478.78 579.30 L480.06 579.08 L481.33 578.87 L482.60 578.64 L483.88 578.42 L485.15 578.18 L486.42 577.95 L487.70 577.70 L488.97 577.45 L490.24 577.20 L491.52 576.94 L492.79 576.67 L494.06 576.40 L495.34 576.12 L496.61 575.84 L497.88 575.55 L499.16 575.25 L500.43 574.95 L501.71 574.64 L502.98 574.33 L504.25 574.00 L505.53 573.67 L506.80 573.33 L508.07 572.99 L509.35 572.64 L510.62 572.28 L511.89 571.91 L513.17 571.53 L514.44 571.15 L515.71 570.76 L516.99 570.36 L518.26 569.95 L519.54 569.53 L520.81 569.10 L522.08 568.67 L523.36 568.22 L524.63 567.77 L525.90 567.30 L527.18 566.83 L528.45 566.34 L529.72 565.85 L531.00 565.34 L532.27 564.83 L533.54 564.30 L534.82 563.77 L536.09 563.22 L537.36 562.66 L538.64 562.09 L539.91 561.50 L541.19 560.91 L542.46 560.30 L543.73 559.68 L545.01 559.05 L546.28 558.40 L547.55 557.75 L548.83 557.07 L550.10 556.39 L551.37 555.69 L552.65 554.98 L553.92 554.25 L555.19 553.51 L556.47 552.76 L557.74 551.98 L559.02 551.20 L560.29 550.40 L561.56 549.58 L562.84 548.75 L564.11 547.90 L565.38 547.04 L566.66 546.16 L567.93 545.26 L569.20 544.34 L570.48 543.41 L571.75 542.46 L573.02 541.50 L574.30 540.51 L575.57 539.51 L576.84 538.49 L578.12 537.45 L579.39 536.39 L580.67 535.31 L581.94 534.22 L583.21 533.10 L584.49 531.97 L585.76 530.81 L587.03 529.63 L588.31 528.44 L589.58 527.22 L590.85 525.99 L592.13 524.73 L593.40 523.45 L594.67 522.15 L595.95 520.83 L597.22 519.49 L598.49 518.12 L599.77 516.74 L601.04 515.33 L602.32 513.90 L603.59 512.44 L604.86 510.97 L606.14 509.47 L607.41 507.95 L608.68 506.41 L609.96 504.84 L611.23 503.25 L612.50 501.64 L613.78 500.01 L615.05 498.35 L616.32 496.67 L617.60 494.96 L618.87 493.23 L620.15 491.48 L621.42 489.71 L622.69 487.91 L623.97 486.09 L625.24 484.25 L626.51 482.38 L627.79 480.49 L629.06 478.58 L630.33 476.64 L631.61 474.68 L632.88 472.70 L634.15 470.70 L635.43 468.67 L636.70 466.63 L637.97 464.56 L639.25 462.47 L640.52 460.35 L641.80 458.22 L643.07 456.06 L644.34 453.89 L645.62 451.69 L646.89 449.48 L648.16 447.24 L649.44 444.99 L650.71 442.71 L651.98 440.42 L653.26 438.11 L654.53 435.78 L655.80 433.43 L657.08 431.07 L658.35 428.69 L659.63 426.29 L660.90 423.88 L662.17 421.45 L663.45 419.01 L664.72 416.56 L665.99 414.09 L667.27 411.60 L668.54 409.11 L669.81 406.60 L671.09 404.09 L672.36 401.56 L673.63 399.02 L674.91 396.47 L676.18 393.91 L677.45 391.35 L678.73 388.78 L680.00 386.20 L681.28 383.61 L682.55 381.02 L683.82 378.42 L685.10 375.82 L686.37 373.22 L687.64 370.61 L688.92 368.00 L690.19 365.39 L691.46 362.78 L692.74 360.17 L694.01 357.56 L695.28 354.95 L696.56 352.35 L697.83 349.74 L699.11 347.14 L700.38 344.55 L701.65 341.96 L702.93 339.37 L704.20 336.79 L705.47 334.22 L706.75 331.65 L708.02 329.10 L709.29 326.55 L710.57 324.01 L711.84 321.48 L713.11 318.96 L714.39 316.46 L715.66 313.96 L716.93 311.48 L718.21 309.01 L719.48 306.55 L720.76 304.11 L722.03 301.68 L723.30 299.27 L724.58 296.87 L725.85 294.49 L727.12 292.13 L728.40 289.78 L729.67 287.45 L730.94 285.14 L732.22 282.85 L733.49 280.57 L734.76 278.32 L736.04 276.08 L737.31 273.87 L738.59 271.67 L739.86 269.49 L741.13 267.34 L742.41 265.21 L743.68 263.09 L744.95 261.00 L746.23 258.93 L747.50 256.88" fill="none" stroke="#f7bb22" stroke-width="2.25" stroke-linejoin="round" clip-path="url(#lc)"/>
<polygon points="136.90,570.70 138.52,574.78 142.89,575.05 139.51,577.85 140.60,582.10 136.90,579.75 133.20,582.10 134.28,577.85 130.91,575.05 135.28,574.78" fill="#f7bb22" stroke="#1a1a1a" stroke-width="0.9" stroke-linejoin="miter"/>
<polygon points="419.70,579.70 421.32,583.78 425.69,584.05 422.31,586.85 423.40,591.10 419.70,588.75 416.00,591.10 417.08,586.85 413.71,584.05 418.08,583.78" fill="#f7bb22" stroke="#1a1a1a" stroke-width="0.9" stroke-linejoin="miter"/>
<polygon points="561.10,541.50 562.72,545.58 567.09,545.85 563.71,548.65 564.80,552.90 561.10,550.55 557.40,552.90 558.48,548.65 555.11,545.85 559.48,545.58" fill="#f7bb22" stroke="#1a1a1a" stroke-width="0.9" stroke-linejoin="miter"/>
<polygon points="635.03,465.20 636.65,469.28 641.03,469.55 637.65,472.35 638.74,476.60 635.03,474.25 631.33,476.60 632.42,472.35 629.04,469.55 633.42,469.28" fill="#f7bb22" stroke="#1a1a1a" stroke-width="0.9" stroke-linejoin="miter"/>
<polygon points="677.60,382.00 679.22,386.08 683.59,386.35 680.22,389.15 681.30,393.40 677.60,391.05 673.90,393.40 674.98,389.15 671.61,386.35 675.98,386.08" fill="#f7bb22" stroke="#1a1a1a" stroke-width="0.9" stroke-linejoin="miter"/>
<polygon points="702.50,334.80 704.12,338.88 708.49,339.15 705.11,341.95 706.20,346.20 702.50,343.85 698.80,346.20 699.88,341.95 696.51,339.15 700.88,338.88" fill="#f7bb22" stroke="#1a1a1a" stroke-width="0.9" stroke-linejoin="miter"/>
<path d="M112.00 586.58 L113.27 586.57 L114.55 586.57 L115.82 586.57 L117.09 586.57 L118.37 586.57 L119.64 586.57 L120.91 586.56 L122.19 586.56 L123.46 586.56 L124.74 586.56 L126.01 586.56 L127.28 586.55 L128.56 586.55 L129.83 586.55 L131.10 586.55 L132.38 586.54 L133.65 586.54 L134.92 586.54 L136.20 586.54 L137.47 586.53 L138.74 586.53 L140.02 586.53 L141.29 586.53 L142.57 586.52 L143.84 586.52 L145.11 586.52 L146.39 586.52 L147.66 586.51 L148.93 586.51 L150.21 586.51 L151.48 586.50 L152.75 586.50 L154.03 586.50 L155.30 586.49 L156.57 586.49 L157.85 586.49 L159.12 586.48 L160.39 586.48 L161.67 586.48 L162.94 586.47 L164.22 586.47 L165.49 586.47 L166.76 586.46 L168.04 586.46 L169.31 586.46 L170.58 586.45 L171.86 586.45 L173.13 586.44 L174.40 586.44 L175.68 586.43 L176.95 586.43 L178.22 586.43 L179.50 586.42 L180.77 586.42 L182.05 586.41 L183.32 586.41 L184.59 586.40 L185.87 586.40 L187.14 586.39 L188.41 586.39 L189.69 586.38 L190.96 586.38 L192.23 586.37 L193.51 586.37 L194.78 586.36 L196.05 586.35 L197.33 586.35 L198.60 586.34 L199.87 586.34 L201.15 586.33 L202.42 586.32 L203.70 586.32 L204.97 586.31 L206.24 586.30 L207.52 586.30 L208.79 586.29 L210.06 586.28 L211.34 586.28 L212.61 586.27 L213.88 586.26 L215.16 586.25 L216.43 586.25 L217.70 586.24 L218.98 586.23 L220.25 586.22 L221.53 586.21 L222.80 586.20 L224.07 586.20 L225.35 586.19 L226.62 586.18 L227.89 586.17 L229.17 586.16 L230.44 586.15 L231.71 586.14 L232.99 586.13 L234.26 586.12 L235.53 586.11 L236.81 586.10 L238.08 586.09 L239.35 586.08 L240.63 586.07 L241.90 586.06 L243.18 586.05 L244.45 586.03 L245.72 586.02 L247.00 586.01 L248.27 586.00 L249.54 585.98 L250.82 585.97 L252.09 585.96 L253.36 585.95 L254.64 585.93 L255.91 585.92 L257.18 585.91 L258.46 585.89 L259.73 585.88 L261.01 585.86 L262.28 585.85 L263.55 585.83 L264.83 585.82 L266.10 585.80 L267.37 585.78 L268.65 585.77 L269.92 585.75 L271.19 585.73 L272.47 585.72 L273.74 585.70 L275.01 585.68 L276.29 585.66 L277.56 585.64 L278.83 585.62 L280.11 585.60 L281.38 585.58 L282.66 585.56 L283.93 585.54 L285.20 585.52 L286.48 585.50 L287.75 585.48 L289.02 585.46 L290.30 585.44 L291.57 585.41 L292.84 585.39 L294.12 585.37 L295.39 585.34 L296.66 585.32 L297.94 585.29 L299.21 585.27 L300.48 585.24 L301.76 585.21 L303.03 585.19 L304.31 585.16 L305.58 585.13 L306.85 585.10 L308.13 585.07 L309.40 585.04 L310.67 585.01 L311.95 584.98 L313.22 584.95 L314.49 584.92 L315.77 584.89 L317.04 584.86 L318.31 584.82 L319.59 584.79 L320.86 584.75 L322.14 584.72 L323.41 584.68 L324.68 584.64 L325.96 584.61 L327.23 584.57 L328.50 584.53 L329.78 584.49 L331.05 584.45 L332.32 584.41 L333.60 584.37 L334.87 584.32 L336.14 584.28 L337.42 584.24 L338.69 584.19 L339.96 584.15 L341.24 584.10 L342.51 584.05 L343.79 584.00 L345.06 583.95 L346.33 583.90 L347.61 583.85 L348.88 583.80 L350.15 583.75 L351.43 583.69 L352.70 583.64 L353.97 583.58 L355.25 583.53 L356.52 583.47 L357.79 583.41 L359.07 583.35 L360.34 583.29 L361.62 583.22 L362.89 583.16 L364.16 583.10 L365.44 583.03 L366.71 582.96 L367.98 582.89 L369.26 582.82 L370.53 582.75 L371.80 582.68 L373.08 582.61 L374.35 582.53 L375.62 582.46 L376.90 582.38 L378.17 582.30 L379.44 582.22 L380.72 582.14 L381.99 582.06 L383.27 581.97 L384.54 581.88 L385.81 581.80 L387.09 581.71 L388.36 581.62 L389.63 581.52 L390.91 581.43 L392.18 581.33 L393.45 581.23 L394.73 581.13 L396.00 581.03 L397.27 580.93 L398.55 580.82 L399.82 580.72 L401.10 580.61 L402.37 580.50 L403.64 580.38 L404.92 580.27 L406.19 580.15 L407.46 580.03 L408.74 579.91 L410.01 579.79 L411.28 579.66 L412.56 579.53 L413.83 579.40 L415.10 579.27 L416.38 579.13 L417.65 579.00 L418.92 578.86 L420.20 578.71 L421.47 578.57 L422.75 578.42 L424.02 578.27 L425.29 578.12 L426.57 577.96 L427.84 577.80 L429.11 577.64 L430.39 577.48 L431.66 577.31 L432.93 577.14 L434.21 576.97 L435.48 576.79 L436.75 576.61 L438.03 576.43 L439.30 576.24 L440.58 576.05 L441.85 575.86 L443.12 575.67 L444.40 575.47 L445.67 575.26 L446.94 575.06 L448.22 574.85 L449.49 574.63 L450.76 574.42 L452.04 574.20 L453.31 573.97 L454.58 573.74 L455.86 573.51 L457.13 573.27 L458.40 573.03 L459.68 572.79 L460.95 572.54 L462.23 572.28 L463.50 572.03 L464.77 571.76 L466.05 571.50 L467.32 571.22 L468.59 570.95 L469.87 570.67 L471.14 570.38 L472.41 570.09 L473.69 569.79 L474.96 569.49 L476.23 569.19 L477.51 568.87 L478.78 568.56 L480.06 568.24 L481.33 567.91 L482.60 567.58 L483.88 567.24 L485.15 566.89 L486.42 566.54 L487.70 566.19 L488.97 565.83 L490.24 565.46 L491.52 565.08 L492.79 564.70 L494.06 564.32 L495.34 563.92 L496.61 563.52 L497.88 563.12 L499.16 562.71 L500.43 562.29 L501.71 561.86 L502.98 561.43 L504.25 560.99 L505.53 560.54 L506.80 560.08 L508.07 559.62 L509.35 559.15 L510.62 558.67 L511.89 558.19 L513.17 557.70 L514.44 557.19 L515.71 556.69 L516.99 556.17 L518.26 555.64 L519.54 555.11 L520.81 554.57 L522.08 554.02 L523.36 553.46 L524.63 552.89 L525.90 552.32 L527.18 551.73 L528.45 551.14 L529.72 550.53 L531.00 549.92 L532.27 549.30 L533.54 548.67 L534.82 548.03 L536.09 547.38 L537.36 546.71 L538.64 546.04 L539.91 545.36 L541.19 544.67 L542.46 543.97 L543.73 543.26 L545.01 542.54 L546.28 541.81 L547.55 541.06 L548.83 540.31 L550.10 539.55 L551.37 538.77 L552.65 537.98 L553.92 537.19 L555.19 536.38 L556.47 535.56 L557.74 534.73 L559.02 533.88 L560.29 533.03 L561.56 532.16 L562.84 531.28 L564.11 530.39 L565.38 529.49 L566.66 528.57 L567.93 527.65 L569.20 526.71 L570.48 525.76 L571.75 524.79 L573.02 523.82 L574.30 522.83 L575.57 521.82 L576.84 520.81 L578.12 519.78 L579.39 518.74 L580.67 517.69 L581.94 516.62 L583.21 515.54 L584.49 514.45 L585.76 513.34 L587.03 512.22 L588.31 511.09 L589.58 509.94 L590.85 508.78 L592.13 507.61 L593.40 506.42 L594.67 505.23 L595.95 504.01 L597.22 502.78 L598.49 501.54 L599.77 500.29 L601.04 499.02 L602.32 497.74 L603.59 496.45 L604.86 495.14 L606.14 493.82 L607.41 492.48 L608.68 491.13 L609.96 489.77 L611.23 488.39 L612.50 487.01 L613.78 485.60 L615.05 484.19 L616.32 482.76 L617.60 481.32 L618.87 479.86 L620.15 478.39 L621.42 476.91 L622.69 475.42 L623.97 473.91 L625.24 472.39 L626.51 470.85 L627.79 469.31 L629.06 467.75 L630.33 466.18 L631.61 464.60 L632.88 463.01 L634.15 461.40 L635.43 459.78 L636.70 458.15 L637.97 456.51 L639.25 454.86 L640.52 453.19 L641.80 451.52 L643.07 449.83 L644.34 448.14 L645.62 446.43 L646.89 444.71 L648.16 442.99 L649.44 441.25 L650.71 439.51 L651.98 437.75 L653.26 435.98 L654.53 434.21 L655.80 432.43 L657.08 430.64 L658.35 428.84 L659.63 427.03 L660.90 425.22 L662.17 423.39 L663.45 421.57 L664.72 419.73 L665.99 417.89 L667.27 416.04 L668.54 414.18 L669.81 412.32 L671.09 410.45 L672.36 408.58 L673.63 406.71 L674.91 404.82 L676.18 402.94 L677.45 401.05 L678.73 399.15 L680.00 397.26 L681.28 395.36 L682.55 393.46 L683.82 391.55 L685.10 389.64 L686.37 387.73 L687.64 385.82 L688.92 383.91 L690.19 382.00 L691.46 380.09 L692.74 378.17 L694.01 376.26 L695.28 374.35 L696.56 372.44 L697.83 370.53 L699.11 368.62 L700.38 366.71 L701.65 364.81 L702.93 362.90 L704.20 361.00 L705.47 359.11 L706.75 357.21 L708.02 355.32 L709.29 353.44 L710.57 351.55 L711.84 349.68 L713.11 347.80 L714.39 345.94 L715.66 344.08 L716.93 342.22 L718.21 340.37 L719.48 338.53 L720.76 336.69 L722.03 334.86 L723.30 333.04 L724.58 331.22 L725.85 329.41 L727.12 327.62 L728.40 325.82 L729.67 324.04 L730.94 322.27 L732.22 320.50 L733.49 318.74 L734.76 317.00 L736.04 315.26 L737.31 313.53 L738.59 311.82 L739.86 310.11 L741.13 308.41 L742.41 306.73 L743.68 305.05 L744.95 303.39 L746.23 301.73 L747.50 300.09" fill="none" stroke="#56c5f0" stroke-width="2.25" stroke-linejoin="round" clip-path="url(#lc)"/>
<polygon points="136.90,573.40 138.22,575.71 140.88,575.70 139.55,578.00 140.88,580.30 138.22,580.29 136.90,582.60 135.57,580.29 132.92,580.30 134.25,578.00 132.92,575.70 135.57,575.71" fill="#56c5f0" stroke="#1a1a1a" stroke-width="0.9" stroke-linejoin="miter"/>
<polygon points="419.70,573.40 421.02,575.71 423.68,575.70 422.35,578.00 423.68,580.30 421.02,580.29 419.70,582.60 418.37,580.29 415.72,580.30 417.05,578.00 415.72,575.70 418.37,575.71" fill="#56c5f0" stroke="#1a1a1a" stroke-width="0.9" stroke-linejoin="miter"/>
<polygon points="561.10,530.90 562.42,533.21 565.08,533.20 563.75,535.50 565.08,537.80 562.42,537.79 561.10,540.10 559.77,537.79 557.12,537.80 558.45,535.50 557.12,533.20 559.77,533.21" fill="#56c5f0" stroke="#1a1a1a" stroke-width="0.9" stroke-linejoin="miter"/>
<polygon points="635.03,449.40 636.36,451.71 639.02,451.70 637.68,454.00 639.02,456.30 636.36,456.29 635.03,458.60 633.71,456.29 631.05,456.30 632.38,454.00 631.05,451.70 633.71,451.71" fill="#56c5f0" stroke="#1a1a1a" stroke-width="0.9" stroke-linejoin="miter"/>
<polygon points="677.60,400.40 678.93,402.71 681.58,402.70 680.25,405.00 681.58,407.30 678.93,407.29 677.60,409.60 676.27,407.29 673.62,407.30 674.95,405.00 673.62,402.70 676.27,402.71" fill="#56c5f0" stroke="#1a1a1a" stroke-width="0.9" stroke-linejoin="miter"/>
<polygon points="702.50,355.10 703.82,357.41 706.48,357.40 705.15,359.70 706.48,362.00 703.82,361.99 702.50,364.30 701.17,361.99 698.52,362.00 699.85,359.70 698.52,357.40 701.17,357.41" fill="#56c5f0" stroke="#1a1a1a" stroke-width="0.9" stroke-linejoin="miter"/>
<path d="M112.00 588.54 L113.27 588.54 L114.55 588.54 L115.82 588.54 L117.09 588.54 L118.37 588.54 L119.64 588.54 L120.91 588.54 L122.19 588.54 L123.46 588.54 L124.74 588.54 L126.01 588.54 L127.28 588.54 L128.56 588.54 L129.83 588.54 L131.10 588.53 L132.38 588.53 L133.65 588.53 L134.92 588.53 L136.20 588.53 L137.47 588.53 L138.74 588.53 L140.02 588.53 L141.29 588.53 L142.57 588.53 L143.84 588.53 L145.11 588.53 L146.39 588.53 L147.66 588.53 L148.93 588.53 L150.21 588.53 L151.48 588.53 L152.75 588.53 L154.03 588.53 L155.30 588.53 L156.57 588.53 L157.85 588.53 L159.12 588.53 L160.39 588.53 L161.67 588.53 L162.94 588.52 L164.22 588.52 L165.49 588.52 L166.76 588.52 L168.04 588.52 L169.31 588.52 L170.58 588.52 L171.86 588.52 L173.13 588.52 L174.40 588.52 L175.68 588.52 L176.95 588.52 L178.22 588.52 L179.50 588.52 L180.77 588.52 L182.05 588.51 L183.32 588.51 L184.59 588.51 L185.87 588.51 L187.14 588.51 L188.41 588.51 L189.69 588.51 L190.96 588.51 L192.23 588.51 L193.51 588.51 L194.78 588.50 L196.05 588.50 L197.33 588.50 L198.60 588.50 L199.87 588.50 L201.15 588.50 L202.42 588.50 L203.70 588.50 L204.97 588.49 L206.24 588.49 L207.52 588.49 L208.79 588.49 L210.06 588.49 L211.34 588.49 L212.61 588.49 L213.88 588.48 L215.16 588.48 L216.43 588.48 L217.70 588.48 L218.98 588.48 L220.25 588.48 L221.53 588.47 L222.80 588.47 L224.07 588.47 L225.35 588.47 L226.62 588.47 L227.89 588.46 L229.17 588.46 L230.44 588.46 L231.71 588.46 L232.99 588.46 L234.26 588.45 L235.53 588.45 L236.81 588.45 L238.08 588.45 L239.35 588.44 L240.63 588.44 L241.90 588.44 L243.18 588.43 L244.45 588.43 L245.72 588.43 L247.00 588.42 L248.27 588.42 L249.54 588.42 L250.82 588.41 L252.09 588.41 L253.36 588.41 L254.64 588.40 L255.91 588.40 L257.18 588.40 L258.46 588.39 L259.73 588.39 L261.01 588.38 L262.28 588.38 L263.55 588.38 L264.83 588.37 L266.10 588.37 L267.37 588.36 L268.65 588.36 L269.92 588.35 L271.19 588.35 L272.47 588.34 L273.74 588.34 L275.01 588.33 L276.29 588.32 L277.56 588.32 L278.83 588.31 L280.11 588.31 L281.38 588.30 L282.66 588.29 L283.93 588.29 L285.20 588.28 L286.48 588.27 L287.75 588.27 L289.02 588.26 L290.30 588.25 L291.57 588.24 L292.84 588.24 L294.12 588.23 L295.39 588.22 L296.66 588.21 L297.94 588.20 L299.21 588.19 L300.48 588.18 L301.76 588.17 L303.03 588.16 L304.31 588.15 L305.58 588.14 L306.85 588.13 L308.13 588.12 L309.40 588.11 L310.67 588.10 L311.95 588.09 L313.22 588.07 L314.49 588.06 L315.77 588.05 L317.04 588.04 L318.31 588.02 L319.59 588.01 L320.86 587.99 L322.14 587.98 L323.41 587.97 L324.68 587.95 L325.96 587.93 L327.23 587.92 L328.50 587.90 L329.78 587.88 L331.05 587.87 L332.32 587.85 L333.60 587.83 L334.87 587.81 L336.14 587.79 L337.42 587.77 L338.69 587.75 L339.96 587.73 L341.24 587.71 L342.51 587.69 L343.79 587.66 L345.06 587.64 L346.33 587.62 L347.61 587.59 L348.88 587.57 L350.15 587.54 L351.43 587.52 L352.70 587.49 L353.97 587.46 L355.25 587.43 L356.52 587.40 L357.79 587.37 L359.07 587.34 L360.34 587.31 L361.62 587.28 L362.89 587.24 L364.16 587.21 L365.44 587.17 L366.71 587.14 L367.98 587.10 L369.26 587.06 L370.53 587.02 L371.80 586.98 L373.08 586.94 L374.35 586.90 L375.62 586.86 L376.90 586.81 L378.17 586.77 L379.44 586.72 L380.72 586.67 L381.99 586.62 L383.27 586.57 L384.54 586.52 L385.81 586.47 L387.09 586.41 L388.36 586.36 L389.63 586.30 L390.91 586.24 L392.18 586.18 L393.45 586.12 L394.73 586.06 L396.00 585.99 L397.27 585.92 L398.55 585.85 L399.82 585.78 L401.10 585.71 L402.37 585.64 L403.64 585.56 L404.92 585.48 L406.19 585.40 L407.46 585.32 L408.74 585.24 L410.01 585.15 L411.28 585.06 L412.56 584.97 L413.83 584.88 L415.10 584.78 L416.38 584.68 L417.65 584.58 L418.92 584.48 L420.20 584.38 L421.47 584.27 L422.75 584.16 L424.02 584.04 L425.29 583.92 L426.57 583.80 L427.84 583.68 L429.11 583.56 L430.39 583.43 L431.66 583.29 L432.93 583.16 L434.21 583.02 L435.48 582.87 L436.75 582.73 L438.03 582.58 L439.30 582.42 L440.58 582.27 L441.85 582.10 L443.12 581.94 L444.40 581.77 L445.67 581.59 L446.94 581.41 L448.22 581.23 L449.49 581.04 L450.76 580.85 L452.04 580.65 L453.31 580.45 L454.58 580.24 L455.86 580.03 L457.13 579.82 L458.40 579.59 L459.68 579.36 L460.95 579.13 L462.23 578.89 L463.50 578.65 L464.77 578.39 L466.05 578.14 L467.32 577.87 L468.59 577.60 L469.87 577.33 L471.14 577.04 L472.41 576.75 L473.69 576.46 L474.96 576.15 L476.23 575.84 L477.51 575.52 L478.78 575.20 L480.06 574.86 L481.33 574.52 L482.60 574.17 L483.88 573.81 L485.15 573.45 L486.42 573.07 L487.70 572.69 L488.97 572.30 L490.24 571.89 L491.52 571.48 L492.79 571.06 L494.06 570.64 L495.34 570.20 L496.61 569.75 L497.88 569.29 L499.16 568.82 L500.43 568.34 L501.71 567.85 L502.98 567.35 L504.25 566.84 L505.53 566.31 L506.80 565.78 L508.07 565.23 L509.35 564.67 L510.62 564.10 L511.89 563.52 L513.17 562.93 L514.44 562.32 L515.71 561.70 L516.99 561.07 L518.26 560.43 L519.54 559.77 L520.81 559.10 L522.08 558.41 L523.36 557.71 L524.63 557.00 L525.90 556.28 L527.18 555.53 L528.45 554.78 L529.72 554.01 L531.00 553.23 L532.27 552.43 L533.54 551.61 L534.82 550.78 L536.09 549.94 L537.36 549.08 L538.64 548.21 L539.91 547.32 L541.19 546.41 L542.46 545.49 L543.73 544.55 L545.01 543.60 L546.28 542.63 L547.55 541.64 L548.83 540.64 L550.10 539.62 L551.37 538.59 L552.65 537.54 L553.92 536.47 L555.19 535.39 L556.47 534.29 L557.74 533.17 L559.02 532.04 L560.29 530.89 L561.56 529.73 L562.84 528.55 L564.11 527.35 L565.38 526.14 L566.66 524.91 L567.93 523.67 L569.20 522.41 L570.48 521.13 L571.75 519.84 L573.02 518.53 L574.30 517.21 L575.57 515.88 L576.84 514.53 L578.12 513.16 L579.39 511.79 L580.67 510.39 L581.94 508.99 L583.21 507.57 L584.49 506.14 L585.76 504.69 L587.03 503.24 L588.31 501.77 L589.58 500.29 L590.85 498.80 L592.13 497.30 L593.40 495.78 L594.67 494.26 L595.95 492.73 L597.22 491.19 L598.49 489.64 L599.77 488.08 L601.04 486.51 L602.32 484.94 L603.59 483.36 L604.86 481.77 L606.14 480.18 L607.41 478.58 L608.68 476.98 L609.96 475.38 L611.23 473.77 L612.50 472.15 L613.78 470.54 L615.05 468.92 L616.32 467.30 L617.60 465.68 L618.87 464.06 L620.15 462.44 L621.42 460.82 L622.69 459.20 L623.97 457.58 L625.24 455.97 L626.51 454.35 L627.79 452.75 L629.06 451.14 L630.33 449.54 L631.61 447.95 L632.88 446.36 L634.15 444.77 L635.43 443.20 L636.70 441.63 L637.97 440.07 L639.25 438.51 L640.52 436.97 L641.80 435.43 L643.07 433.90 L644.34 432.38 L645.62 430.88 L646.89 429.38 L648.16 427.89 L649.44 426.42 L650.71 424.96 L651.98 423.51 L653.26 422.07 L654.53 420.64 L655.80 419.23 L657.08 417.83 L658.35 416.45 L659.63 415.08 L660.90 413.72 L662.17 412.38 L663.45 411.05 L664.72 409.73 L665.99 408.44 L667.27 407.15 L668.54 405.89 L669.81 404.63 L671.09 403.40 L672.36 402.18 L673.63 400.97 L674.91 399.78 L676.18 398.61 L677.45 397.46 L678.73 396.31 L680.00 395.19 L681.28 394.08 L682.55 392.99 L683.82 391.92 L685.10 390.86 L686.37 389.82 L687.64 388.79 L688.92 387.78 L690.19 386.79 L691.46 385.81 L692.74 384.85 L694.01 383.90 L695.28 382.97 L696.56 382.06 L697.83 381.16 L699.11 380.28 L700.38 379.41 L701.65 378.56 L702.93 377.72 L704.20 376.90 L705.47 376.09 L706.75 375.30 L708.02 374.52 L709.29 373.76 L710.57 373.01 L711.84 372.28 L713.11 371.56 L714.39 370.86 L715.66 370.16 L716.93 369.49 L718.21 368.82 L719.48 368.17 L720.76 367.53 L722.03 366.91 L723.30 366.29 L724.58 365.69 L725.85 365.11 L727.12 364.53 L728.40 363.97 L729.67 363.41 L730.94 362.87 L732.22 362.34 L733.49 361.83 L734.76 361.32 L736.04 360.82 L737.31 360.34 L738.59 359.87 L739.86 359.40 L741.13 358.95 L742.41 358.50 L743.68 358.07 L744.95 357.64 L746.23 357.23 L747.50 356.82" fill="none" stroke="#9848a8" stroke-width="2.25" stroke-linejoin="round" clip-path="url(#lc)"/>
<circle cx="136.90" cy="577.70" r="4.75" fill="#9848a8" stroke="#1a1a1a" stroke-width="0.9"/>
<circle cx="419.70" cy="584.90" r="4.75" fill="#9848a8" stroke="#1a1a1a" stroke-width="0.9"/>
<circle cx="561.10" cy="529.30" r="4.75" fill="#9848a8" stroke="#1a1a1a" stroke-width="0.9"/>
<circle cx="635.03" cy="446.30" r="4.75" fill="#9848a8" stroke="#1a1a1a" stroke-width="0.9"/>
<circle cx="677.60" cy="394.50" r="4.75" fill="#9848a8" stroke="#1a1a1a" stroke-width="0.9"/>
<circle cx="702.50" cy="379.90" r="4.75" fill="#9848a8" stroke="#1a1a1a" stroke-width="0.9"/>
<path d="M112.00 591.95 L113.27 591.95 L114.55 591.94 L115.82 591.94 L117.09 591.94 L118.37 591.94 L119.64 591.93 L120.91 591.93 L122.19 591.93 L123.46 591.92 L124.74 591.92 L126.01 591.92 L127.28 591.91 L128.56 591.91 L129.83 591.90 L131.10 591.90 L132.38 591.90 L133.65 591.89 L134.92 591.89 L136.20 591.89 L137.47 591.88 L138.74 591.88 L140.02 591.87 L141.29 591.87 L142.57 591.86 L143.84 591.86 L145.11 591.86 L146.39 591.85 L147.66 591.85 L148.93 591.84 L150.21 591.84 L151.48 591.83 L152.75 591.83 L154.03 591.82 L155.30 591.81 L156.57 591.81 L157.85 591.80 L159.12 591.80 L160.39 591.79 L161.67 591.79 L162.94 591.78 L164.22 591.77 L165.49 591.77 L166.76 591.76 L168.04 591.75 L169.31 591.75 L170.58 591.74 L171.86 591.73 L173.13 591.73 L174.40 591.72 L175.68 591.71 L176.95 591.71 L178.22 591.70 L179.50 591.69 L180.77 591.68 L182.05 591.67 L183.32 591.67 L184.59 591.66 L185.87 591.65 L187.14 591.64 L188.41 591.63 L189.69 591.62 L190.96 591.61 L192.23 591.60 L193.51 591.59 L194.78 591.58 L196.05 591.57 L197.33 591.56 L198.60 591.55 L199.87 591.54 L201.15 591.53 L202.42 591.52 L203.70 591.51 L204.97 591.50 L206.24 591.49 L207.52 591.48 L208.79 591.46 L210.06 591.45 L211.34 591.44 L212.61 591.43 L213.88 591.41 L215.16 591.40 L216.43 591.39 L217.70 591.37 L218.98 591.36 L220.25 591.34 L221.53 591.33 L222.80 591.31 L224.07 591.30 L225.35 591.28 L226.62 591.27 L227.89 591.25 L229.17 591.23 L230.44 591.22 L231.71 591.20 L232.99 591.18 L234.26 591.17 L235.53 591.15 L236.81 591.13 L238.08 591.11 L239.35 591.09 L240.63 591.07 L241.90 591.05 L243.18 591.03 L244.45 591.01 L245.72 590.99 L247.00 590.97 L248.27 590.95 L249.54 590.92 L250.82 590.90 L252.09 590.88 L253.36 590.85 L254.64 590.83 L255.91 590.81 L257.18 590.78 L258.46 590.75 L259.73 590.73 L261.01 590.70 L262.28 590.67 L263.55 590.65 L264.83 590.62 L266.10 590.59 L267.37 590.56 L268.65 590.53 L269.92 590.50 L271.19 590.47 L272.47 590.44 L273.74 590.41 L275.01 590.37 L276.29 590.34 L277.56 590.31 L278.83 590.27 L280.11 590.24 L281.38 590.20 L282.66 590.16 L283.93 590.12 L285.20 590.09 L286.48 590.05 L287.75 590.01 L289.02 589.97 L290.30 589.93 L291.57 589.88 L292.84 589.84 L294.12 589.80 L295.39 589.75 L296.66 589.71 L297.94 589.66 L299.21 589.61 L300.48 589.56 L301.76 589.52 L303.03 589.47 L304.31 589.41 L305.58 589.36 L306.85 589.31 L308.13 589.26 L309.40 589.20 L310.67 589.14 L311.95 589.09 L313.22 589.03 L314.49 588.97 L315.77 588.91 L317.04 588.85 L318.31 588.78 L319.59 588.72 L320.86 588.65 L322.14 588.59 L323.41 588.52 L324.68 588.45 L325.96 588.38 L327.23 588.31 L328.50 588.24 L329.78 588.16 L331.05 588.08 L332.32 588.01 L333.60 587.93 L334.87 587.85 L336.14 587.77 L337.42 587.68 L338.69 587.60 L339.96 587.51 L341.24 587.42 L342.51 587.33 L343.79 587.24 L345.06 587.14 L346.33 587.05 L347.61 586.95 L348.88 586.85 L350.15 586.75 L351.43 586.65 L352.70 586.54 L353.97 586.44 L355.25 586.33 L356.52 586.22 L357.79 586.10 L359.07 585.99 L360.34 585.87 L361.62 585.75 L362.89 585.63 L364.16 585.50 L365.44 585.38 L366.71 585.25 L367.98 585.12 L369.26 584.98 L370.53 584.85 L371.80 584.71 L373.08 584.57 L374.35 584.42 L375.62 584.27 L376.90 584.12 L378.17 583.97 L379.44 583.82 L380.72 583.66 L381.99 583.50 L383.27 583.33 L384.54 583.16 L385.81 582.99 L387.09 582.82 L388.36 582.64 L389.63 582.46 L390.91 582.28 L392.18 582.09 L393.45 581.90 L394.73 581.70 L396.00 581.51 L397.27 581.30 L398.55 581.10 L399.82 580.89 L401.10 580.68 L402.37 580.46 L403.64 580.24 L404.92 580.01 L406.19 579.78 L407.46 579.55 L408.74 579.31 L410.01 579.07 L411.28 578.82 L412.56 578.57 L413.83 578.32 L415.10 578.06 L416.38 577.79 L417.65 577.52 L418.92 577.25 L420.20 576.97 L421.47 576.68 L422.75 576.39 L424.02 576.10 L425.29 575.79 L426.57 575.49 L427.84 575.18 L429.11 574.86 L430.39 574.54 L431.66 574.21 L432.93 573.87 L434.21 573.53 L435.48 573.18 L436.75 572.83 L438.03 572.47 L439.30 572.10 L440.58 571.73 L441.85 571.35 L443.12 570.97 L444.40 570.57 L445.67 570.17 L446.94 569.77 L448.22 569.35 L449.49 568.93 L450.76 568.51 L452.04 568.07 L453.31 567.63 L454.58 567.17 L455.86 566.72 L457.13 566.25 L458.40 565.77 L459.68 565.29 L460.95 564.80 L462.23 564.30 L463.50 563.79 L464.77 563.27 L466.05 562.75 L467.32 562.21 L468.59 561.67 L469.87 561.12 L471.14 560.55 L472.41 559.98 L473.69 559.40 L474.96 558.81 L476.23 558.21 L477.51 557.60 L478.78 556.98 L480.06 556.35 L481.33 555.71 L482.60 555.05 L483.88 554.39 L485.15 553.72 L486.42 553.03 L487.70 552.34 L488.97 551.63 L490.24 550.92 L491.52 550.19 L492.79 549.45 L494.06 548.69 L495.34 547.93 L496.61 547.15 L497.88 546.37 L499.16 545.57 L500.43 544.75 L501.71 543.93 L502.98 543.09 L504.25 542.24 L505.53 541.38 L506.80 540.50 L508.07 539.61 L509.35 538.71 L510.62 537.79 L511.89 536.86 L513.17 535.92 L514.44 534.96 L515.71 533.99 L516.99 533.00 L518.26 532.00 L519.54 530.99 L520.81 529.96 L522.08 528.92 L523.36 527.86 L524.63 526.79 L525.90 525.70 L527.18 524.60 L528.45 523.48 L529.72 522.35 L531.00 521.20 L532.27 520.04 L533.54 518.86 L534.82 517.67 L536.09 516.46 L537.36 515.23 L538.64 513.99 L539.91 512.73 L541.19 511.46 L542.46 510.17 L543.73 508.87 L545.01 507.55 L546.28 506.21 L547.55 504.86 L548.83 503.49 L550.10 502.11 L551.37 500.71 L552.65 499.29 L553.92 497.86 L555.19 496.41 L556.47 494.94 L557.74 493.46 L559.02 491.96 L560.29 490.45 L561.56 488.92 L562.84 487.37 L564.11 485.81 L565.38 484.23 L566.66 482.63 L567.93 481.02 L569.20 479.40 L570.48 477.75 L571.75 476.09 L573.02 474.42 L574.30 472.73 L575.57 471.02 L576.84 469.30 L578.12 467.57 L579.39 465.82 L580.67 464.05 L581.94 462.27 L583.21 460.48 L584.49 458.67 L585.76 456.84 L587.03 455.00 L588.31 453.15 L589.58 451.28 L590.85 449.40 L592.13 447.51 L593.40 445.60 L594.67 443.68 L595.95 441.75 L597.22 439.80 L598.49 437.85 L599.77 435.88 L601.04 433.90 L602.32 431.90 L603.59 429.90 L604.86 427.88 L606.14 425.86 L607.41 423.82 L608.68 421.78 L609.96 419.72 L611.23 417.65 L612.50 415.58 L613.78 413.50 L615.05 411.41 L616.32 409.31 L617.60 407.20 L618.87 405.08 L620.15 402.96 L621.42 400.83 L622.69 398.70 L623.97 396.55 L625.24 394.41 L626.51 392.26 L627.79 390.10 L629.06 387.94 L630.33 385.77 L631.61 383.60 L632.88 381.43 L634.15 379.26 L635.43 377.08 L636.70 374.90 L637.97 372.72 L639.25 370.54 L640.52 368.35 L641.80 366.17 L643.07 363.99 L644.34 361.80 L645.62 359.62 L646.89 357.44 L648.16 355.26 L649.44 353.08 L650.71 350.91 L651.98 348.73 L653.26 346.56 L654.53 344.40 L655.80 342.24 L657.08 340.08 L658.35 337.93 L659.63 335.78 L660.90 333.64 L662.17 331.50 L663.45 329.37 L664.72 327.25 L665.99 325.13 L667.27 323.02 L668.54 320.92 L669.81 318.83 L671.09 316.75 L672.36 314.67 L673.63 312.61 L674.91 310.55 L676.18 308.50 L677.45 306.46 L678.73 304.44 L680.00 302.42 L681.28 300.42 L682.55 298.42 L683.82 296.44 L685.10 294.47 L686.37 292.51 L687.64 290.56 L688.92 288.63 L690.19 286.71 L691.46 284.80 L692.74 282.91 L694.01 281.03 L695.28 279.16 L696.56 277.30 L697.83 275.46 L699.11 273.64 L700.38 271.83 L701.65 270.03 L702.93 268.25 L704.20 266.48 L705.47 264.73 L706.75 262.99 L708.02 261.27 L709.29 259.56 L710.57 257.87 L711.84 256.20 L713.11 254.54 L714.39 252.89 L715.66 251.26 L716.93 249.65 L718.21 248.05 L719.48 246.47 L720.76 244.91 L722.03 243.36 L723.30 241.83 L724.58 240.31 L725.85 238.81 L727.12 237.33 L728.40 235.86 L729.67 234.41 L730.94 232.98 L732.22 231.56 L733.49 230.16 L734.76 228.77 L736.04 227.40 L737.31 226.05 L738.59 224.71 L739.86 223.39 L741.13 222.08 L742.41 220.79 L743.68 219.52 L744.95 218.26 L746.23 217.02 L747.50 215.79" fill="none" stroke="#1282cc" stroke-width="2.25" stroke-linejoin="round" clip-path="url(#lc)"/>
<polygon points="130.90,590.00 139.90,584.80 139.90,595.20" fill="#1282cc" stroke="#1a1a1a" stroke-width="0.9" stroke-linejoin="miter"/>
<polygon points="413.70,572.30 422.70,567.10 422.70,577.50" fill="#1282cc" stroke="#1a1a1a" stroke-width="0.9" stroke-linejoin="miter"/>
<polygon points="555.10,490.60 564.10,485.40 564.10,495.80" fill="#1282cc" stroke="#1a1a1a" stroke-width="0.9" stroke-linejoin="miter"/>
<polygon points="629.03,380.30 638.03,375.10 638.03,385.50" fill="#1282cc" stroke="#1a1a1a" stroke-width="0.9" stroke-linejoin="miter"/>
<polygon points="671.60,301.90 680.60,296.70 680.60,307.10" fill="#1282cc" stroke="#1a1a1a" stroke-width="0.9" stroke-linejoin="miter"/>
<polygon points="696.50,272.20 705.50,267.00 705.50,277.40" fill="#1282cc" stroke="#1a1a1a" stroke-width="0.9" stroke-linejoin="miter"/>
<path d="M112.00 589.61 L113.27 589.61 L114.55 589.61 L115.82 589.61 L117.09 589.61 L118.37 589.61 L119.64 589.61 L120.91 589.61 L122.19 589.61 L123.46 589.61 L124.74 589.61 L126.01 589.61 L127.28 589.61 L128.56 589.61 L129.83 589.61 L131.10 589.61 L132.38 589.61 L133.65 589.61 L134.92 589.61 L136.20 589.61 L137.47 589.61 L138.74 589.61 L140.02 589.61 L141.29 589.61 L142.57 589.61 L143.84 589.61 L145.11 589.61 L146.39 589.61 L147.66 589.61 L148.93 589.61 L150.21 589.61 L151.48 589.61 L152.75 589.61 L154.03 589.61 L155.30 589.61 L156.57 589.61 L157.85 589.61 L159.12 589.61 L160.39 589.61 L161.67 589.61 L162.94 589.61 L164.22 589.61 L165.49 589.61 L166.76 589.61 L168.04 589.61 L169.31 589.61 L170.58 589.61 L171.86 589.61 L173.13 589.61 L174.40 589.61 L175.68 589.61 L176.95 589.61 L178.22 589.61 L179.50 589.61 L180.77 589.61 L182.05 589.61 L183.32 589.61 L184.59 589.61 L185.87 589.61 L187.14 589.61 L188.41 589.61 L189.69 589.61 L190.96 589.61 L192.23 589.61 L193.51 589.61 L194.78 589.61 L196.05 589.61 L197.33 589.61 L198.60 589.61 L199.87 589.61 L201.15 589.61 L202.42 589.61 L203.70 589.61 L204.97 589.61 L206.24 589.61 L207.52 589.61 L208.79 589.61 L210.06 589.61 L211.34 589.61 L212.61 589.61 L213.88 589.61 L215.16 589.61 L216.43 589.61 L217.70 589.61 L218.98 589.61 L220.25 589.61 L221.53 589.61 L222.80 589.61 L224.07 589.61 L225.35 589.61 L226.62 589.61 L227.89 589.61 L229.17 589.61 L230.44 589.61 L231.71 589.61 L232.99 589.61 L234.26 589.61 L235.53 589.61 L236.81 589.61 L238.08 589.61 L239.35 589.61 L240.63 589.61 L241.90 589.61 L243.18 589.61 L244.45 589.61 L245.72 589.61 L247.00 589.61 L248.27 589.60 L249.54 589.60 L250.82 589.60 L252.09 589.60 L253.36 589.60 L254.64 589.60 L255.91 589.60 L257.18 589.60 L258.46 589.60 L259.73 589.60 L261.01 589.60 L262.28 589.60 L263.55 589.60 L264.83 589.60 L266.10 589.60 L267.37 589.60 L268.65 589.60 L269.92 589.60 L271.19 589.60 L272.47 589.60 L273.74 589.60 L275.01 589.60 L276.29 589.60 L277.56 589.60 L278.83 589.60 L280.11 589.60 L281.38 589.60 L282.66 589.60 L283.93 589.60 L285.20 589.60 L286.48 589.60 L287.75 589.60 L289.02 589.60 L290.30 589.59 L291.57 589.59 L292.84 589.59 L294.12 589.59 L295.39 589.59 L296.66 589.59 L297.94 589.59 L299.21 589.59 L300.48 589.59 L301.76 589.59 L303.03 589.59 L304.31 589.59 L305.58 589.59 L306.85 589.59 L308.13 589.59 L309.40 589.59 L310.67 589.58 L311.95 589.58 L313.22 589.58 L314.49 589.58 L315.77 589.58 L317.04 589.58 L318.31 589.58 L319.59 589.58 L320.86 589.58 L322.14 589.58 L323.41 589.57 L324.68 589.57 L325.96 589.57 L327.23 589.57 L328.50 589.57 L329.78 589.57 L331.05 589.57 L332.32 589.57 L333.60 589.56 L334.87 589.56 L336.14 589.56 L337.42 589.56 L338.69 589.56 L339.96 589.56 L341.24 589.56 L342.51 589.55 L343.79 589.55 L345.06 589.55 L346.33 589.55 L347.61 589.55 L348.88 589.54 L350.15 589.54 L351.43 589.54 L352.70 589.54 L353.97 589.54 L355.25 589.53 L356.52 589.53 L357.79 589.53 L359.07 589.53 L360.34 589.52 L361.62 589.52 L362.89 589.52 L364.16 589.51 L365.44 589.51 L366.71 589.51 L367.98 589.50 L369.26 589.50 L370.53 589.50 L371.80 589.49 L373.08 589.49 L374.35 589.49 L375.62 589.48 L376.90 589.48 L378.17 589.47 L379.44 589.47 L380.72 589.47 L381.99 589.46 L383.27 589.46 L384.54 589.45 L385.81 589.45 L387.09 589.44 L388.36 589.44 L389.63 589.43 L390.91 589.42 L392.18 589.42 L393.45 589.41 L394.73 589.41 L396.00 589.40 L397.27 589.39 L398.55 589.39 L399.82 589.38 L401.10 589.37 L402.37 589.36 L403.64 589.36 L404.92 589.35 L406.19 589.34 L407.46 589.33 L408.74 589.32 L410.01 589.31 L411.28 589.30 L412.56 589.29 L413.83 589.28 L415.10 589.27 L416.38 589.26 L417.65 589.25 L418.92 589.24 L420.20 589.23 L421.47 589.22 L422.75 589.20 L424.02 589.19 L425.29 589.18 L426.57 589.16 L427.84 589.15 L429.11 589.14 L430.39 589.12 L431.66 589.10 L432.93 589.09 L434.21 589.07 L435.48 589.06 L436.75 589.04 L438.03 589.02 L439.30 589.00 L440.58 588.98 L441.85 588.96 L443.12 588.94 L444.40 588.92 L445.67 588.90 L446.94 588.88 L448.22 588.85 L449.49 588.83 L450.76 588.80 L452.04 588.78 L453.31 588.75 L454.58 588.72 L455.86 588.70 L457.13 588.67 L458.40 588.64 L459.68 588.61 L460.95 588.57 L462.23 588.54 L463.50 588.51 L464.77 588.47 L466.05 588.44 L467.32 588.40 L468.59 588.36 L469.87 588.32 L471.14 588.28 L472.41 588.24 L473.69 588.20 L474.96 588.15 L476.23 588.10 L477.51 588.06 L478.78 588.01 L480.06 587.96 L481.33 587.91 L482.60 587.85 L483.88 587.80 L485.15 587.74 L486.42 587.68 L487.70 587.62 L488.97 587.56 L490.24 587.49 L491.52 587.42 L492.79 587.35 L494.06 587.28 L495.34 587.21 L496.61 587.13 L497.88 587.06 L499.16 586.98 L500.43 586.89 L501.71 586.81 L502.98 586.72 L504.25 586.63 L505.53 586.54 L506.80 586.44 L508.07 586.34 L509.35 586.24 L510.62 586.13 L511.89 586.02 L513.17 585.91 L514.44 585.79 L515.71 585.67 L516.99 585.55 L518.26 585.42 L519.54 585.29 L520.81 585.15 L522.08 585.02 L523.36 584.87 L524.63 584.72 L525.90 584.57 L527.18 584.41 L528.45 584.25 L529.72 584.08 L531.00 583.91 L532.27 583.73 L533.54 583.55 L534.82 583.36 L536.09 583.17 L537.36 582.97 L538.64 582.76 L539.91 582.55 L541.19 582.33 L542.46 582.10 L543.73 581.87 L545.01 581.63 L546.28 581.39 L547.55 581.13 L548.83 580.87 L550.10 580.60 L551.37 580.32 L552.65 580.04 L553.92 579.74 L555.19 579.44 L556.47 579.13 L557.74 578.81 L559.02 578.48 L560.29 578.14 L561.56 577.78 L562.84 577.42 L564.11 577.05 L565.38 576.67 L566.66 576.28 L567.93 575.87 L569.20 575.46 L570.48 575.03 L571.75 574.59 L573.02 574.13 L574.30 573.67 L575.57 573.19 L576.84 572.70 L578.12 572.19 L579.39 571.67 L580.67 571.13 L581.94 570.58 L583.21 570.02 L584.49 569.43 L585.76 568.84 L587.03 568.22 L588.31 567.59 L589.58 566.94 L590.85 566.28 L592.13 565.59 L593.40 564.89 L594.67 564.17 L595.95 563.43 L597.22 562.67 L598.49 561.90 L599.77 561.10 L601.04 560.28 L602.32 559.44 L603.59 558.58 L604.86 557.69 L606.14 556.79 L607.41 555.86 L608.68 554.91 L609.96 553.93 L611.23 552.93 L612.50 551.91 L613.78 550.87 L615.05 549.79 L616.32 548.70 L617.60 547.58 L618.87 546.43 L620.15 545.25 L621.42 544.05 L622.69 542.83 L623.97 541.57 L625.24 540.29 L626.51 538.98 L627.79 537.65 L629.06 536.28 L630.33 534.89 L631.61 533.47 L632.88 532.02 L634.15 530.54 L635.43 529.03 L636.70 527.50 L637.97 525.94 L639.25 524.34 L640.52 522.72 L641.80 521.07 L643.07 519.39 L644.34 517.68 L645.62 515.94 L646.89 514.18 L648.16 512.38 L649.44 510.56 L650.71 508.71 L651.98 506.83 L653.26 504.93 L654.53 502.99 L655.80 501.04 L657.08 499.05 L658.35 497.04 L659.63 495.00 L660.90 492.94 L662.17 490.86 L663.45 488.75 L664.72 486.62 L665.99 484.47 L667.27 482.30 L668.54 480.10 L669.81 477.89 L671.09 475.65 L672.36 473.40 L673.63 471.13 L674.91 468.85 L676.18 466.55 L677.45 464.23 L678.73 461.91 L680.00 459.56 L681.28 457.21 L682.55 454.85 L683.82 452.48 L685.10 450.10 L686.37 447.72 L687.64 445.32 L688.92 442.93 L690.19 440.53 L691.46 438.13 L692.74 435.72 L694.01 433.32 L695.28 430.92 L696.56 428.52 L697.83 426.12 L699.11 423.73 L700.38 421.35 L701.65 418.97 L702.93 416.60 L704.20 414.24 L705.47 411.89 L706.75 409.55 L708.02 407.23 L709.29 404.91 L710.57 402.62 L711.84 400.33 L713.11 398.07 L714.39 395.82 L715.66 393.59 L716.93 391.38 L718.21 389.19 L719.48 387.02 L720.76 384.87 L722.03 382.74 L723.30 380.64 L724.58 378.56 L725.85 376.50 L727.12 374.47 L728.40 372.47 L729.67 370.49 L730.94 368.53 L732.22 366.60 L733.49 364.70 L734.76 362.83 L736.04 360.98 L737.31 359.17 L738.59 357.38 L739.86 355.62 L741.13 353.88 L742.41 352.18 L743.68 350.50 L744.95 348.86 L746.23 347.24 L747.50 345.65" fill="none" stroke="#7cb842" stroke-width="2.25" stroke-linejoin="round" clip-path="url(#lc)"/>
<polygon points="142.90,581.20 133.90,576.00 133.90,586.40" fill="#7cb842" stroke="#1a1a1a" stroke-width="0.9" stroke-linejoin="miter"/>
<polygon points="284.30,596.50 275.30,591.30 275.30,601.70" fill="#7cb842" stroke="#1a1a1a" stroke-width="0.9" stroke-linejoin="miter"/>
<polygon points="425.70,595.00 416.70,589.80 416.70,600.20" fill="#7cb842" stroke="#1a1a1a" stroke-width="0.9" stroke-linejoin="miter"/>
<polygon points="567.10,574.00 558.10,568.80 558.10,579.20" fill="#7cb842" stroke="#1a1a1a" stroke-width="0.9" stroke-linejoin="miter"/>
<polygon points="641.03,528.40 632.03,523.20 632.03,533.60" fill="#7cb842" stroke="#1a1a1a" stroke-width="0.9" stroke-linejoin="miter"/>
<polygon points="683.60,461.00 674.60,455.80 674.60,466.20" fill="#7cb842" stroke="#1a1a1a" stroke-width="0.9" stroke-linejoin="miter"/>
<polygon points="708.50,417.20 699.50,412.00 699.50,422.40" fill="#7cb842" stroke="#1a1a1a" stroke-width="0.9" stroke-linejoin="miter"/>
</g>
<text x="97.0" y="606.10" text-anchor="end" font-family="'Liberation Sans', Arial, Helvetica, sans-serif" font-size="27">0</text>
<text x="97.0" y="541.26" text-anchor="end" font-family="'Liberation Sans', Arial, Helvetica, sans-serif" font-size="27">5</text>
<text x="97.0" y="476.43" text-anchor="end" font-family="'Liberation Sans', Arial, Helvetica, sans-serif" font-size="27">10</text>
<text x="97.0" y="411.59" text-anchor="end" font-family="'Liberation Sans', Arial, Helvetica, sans-serif" font-size="27">15</text>
<text x="97.0" y="346.76" text-anchor="end" font-family="'Liberation Sans', Arial, Helvetica, sans-serif" font-size="27">20</text>
<text x="97.0" y="281.92" text-anchor="end" font-family="'Liberation Sans', Arial, Helvetica, sans-serif" font-size="27">25</text>
<text x="97.0" y="217.09" text-anchor="end" font-family="'Liberation Sans', Arial, Helvetica, sans-serif" font-size="27">30</text>
<text x="97.0" y="152.25" text-anchor="end" font-family="'Liberation Sans', Arial, Helvetica, sans-serif" font-size="27">35</text>
<text x="97.0" y="87.42" text-anchor="end" font-family="'Liberation Sans', Arial, Helvetica, sans-serif" font-size="27">40</text>
<text x="97.0" y="22.58" text-anchor="end" font-family="'Liberation Sans', Arial, Helvetica, sans-serif" font-size="27">45</text>
<text x="112.00" y="645.6" text-anchor="middle" font-family="'Liberation Sans', Arial, Helvetica, sans-serif" font-size="27">10<tspan font-size="22" dy="-13.6">-1</tspan></text>
<text x="253.40" y="645.6" text-anchor="middle" font-family="'Liberation Sans', Arial, Helvetica, sans-serif" font-size="27">10<tspan font-size="22" dy="-13.6">0</tspan></text>
<text x="394.80" y="645.6" text-anchor="middle" font-family="'Liberation Sans', Arial, Helvetica, sans-serif" font-size="27">10<tspan font-size="22" dy="-13.6">1</tspan></text>
<text x="536.20" y="645.6" text-anchor="middle" font-family="'Liberation Sans', Arial, Helvetica, sans-serif" font-size="27">10<tspan font-size="22" dy="-13.6">2</tspan></text>
<text x="677.60" y="645.6" text-anchor="middle" font-family="'Liberation Sans', Arial, Helvetica, sans-serif" font-size="27">10<tspan font-size="22" dy="-13.6">3</tspan></text>
<text transform="translate(22.8,296.9) rotate(-90)" text-anchor="middle" font-family="'Liberation Sans', Arial, Helvetica, sans-serif" font-size="30">Anisotropy (mA)</text>
<text x="450.8" y="702.4" text-anchor="middle" font-family="'Liberation Sans', Arial, Helvetica, sans-serif" font-size="30">PSA concentration (μM)</text>
<text x="12.2" y="705.4" font-family="'Liberation Sans', Arial, Helvetica, sans-serif" font-size="31" font-weight="bold">a</text>
<path d="M984.85 13.90V600.90M978.05 600.90H1618.15" stroke="#000" stroke-width="1.6" fill="none"/>
<path d="M978.05 600.90H984.85M980.35 551.98H984.85M978.05 503.07H984.85M980.35 454.15H984.85M978.05 405.23H984.85M980.35 356.31H984.85M978.05 307.40H984.85M980.35 258.48H984.85M978.05 209.56H984.85M980.35 160.65H984.85M978.05 111.73H984.85M980.35 62.81H984.85M978.05 13.90H984.85M984.85 600.90V607.40M1048.18 600.90V605.50M1111.51 600.90V607.40M1174.84 600.90V605.50M1238.17 600.90V607.40M1301.50 600.90V605.50M1364.83 600.90V607.40M1428.16 600.90V605.50M1491.49 600.90V607.40M1554.82 600.90V605.50M1618.15 600.90V607.40" stroke="#000" stroke-width="1.6" fill="none"/>
<text x="962.7" y="608.40" text-anchor="end" font-family="'Liberation Sans', Arial, Helvetica, sans-serif" font-size="30">0</text>
<text x="962.7" y="510.57" text-anchor="end" font-family="'Liberation Sans', Arial, Helvetica, sans-serif" font-size="30">20</text>
<text x="962.7" y="412.73" text-anchor="end" font-family="'Liberation Sans', Arial, Helvetica, sans-serif" font-size="30">40</text>
<text x="962.7" y="314.90" text-anchor="end" font-family="'Liberation Sans', Arial, Helvetica, sans-serif" font-size="30">60</text>
<text x="962.7" y="217.06" text-anchor="end" font-family="'Liberation Sans', Arial, Helvetica, sans-serif" font-size="30">80</text>
<text x="962.7" y="119.23" text-anchor="end" font-family="'Liberation Sans', Arial, Helvetica, sans-serif" font-size="30">100</text>
<text x="962.7" y="21.40" text-anchor="end" font-family="'Liberation Sans', Arial, Helvetica, sans-serif" font-size="30">120</text>
<text x="984.85" y="638.7" text-anchor="middle" font-family="'Liberation Sans', Arial, Helvetica, sans-serif" font-size="30">0.00</text>
<text x="1111.51" y="638.7" text-anchor="middle" font-family="'Liberation Sans', Arial, Helvetica, sans-serif" font-size="30">0.02</text>
<text x="1238.17" y="638.7" text-anchor="middle" font-family="'Liberation Sans', Arial, Helvetica, sans-serif" font-size="30">0.04</text>
<text x="1364.83" y="638.7" text-anchor="middle" font-family="'Liberation Sans', Arial, Helvetica, sans-serif" font-size="30">0.06</text>
<text x="1491.49" y="638.7" text-anchor="middle" font-family="'Liberation Sans', Arial, Helvetica, sans-serif" font-size="30">0.08</text>
<text x="1618.15" y="638.7" text-anchor="middle" font-family="'Liberation Sans', Arial, Helvetica, sans-serif" font-size="30">0.10</text>
<line x1="1063.1" y1="413.2" x2="1530.1" y2="232.8" stroke="#c80000" stroke-width="1.8"/>
<path d="M1022.80 398.30V452.00M1018.80 398.30H1026.80M1018.80 452.00H1026.80" stroke="#5a5a5a" stroke-width="1.5" fill="none"/>
<path d="M1019.80 482.00V495.20M1015.80 482.00H1023.80M1015.80 495.20H1023.80" stroke="#5a5a5a" stroke-width="1.5" fill="none"/>
<path d="M1063.30 353.30V435.20M1059.30 353.30H1067.30M1059.30 435.20H1067.30" stroke="#5a5a5a" stroke-width="1.5" fill="none"/>
<path d="M1103.80 371.60V439.40M1099.80 371.60H1107.80M1099.80 439.40H1107.80" stroke="#5a5a5a" stroke-width="1.5" fill="none"/>
<path d="M1151.60 100.60V275.60M1147.60 100.60H1155.60M1147.60 275.60H1155.60" stroke="#5a5a5a" stroke-width="1.5" fill="none"/>
<path d="M1158.70 313.00V379.90M1154.70 313.00H1162.70M1154.70 379.90H1162.70" stroke="#5a5a5a" stroke-width="1.5" fill="none"/>
<path d="M1298.70 322.40V461.80M1294.70 322.40H1302.70M1294.70 461.80H1302.70" stroke="#5a5a5a" stroke-width="1.5" fill="none"/>
<path d="M1372.60 251.10V329.70M1368.60 251.10H1376.60M1368.60 329.70H1376.60" stroke="#5a5a5a" stroke-width="1.5" fill="none"/>
<path d="M1529.00 180.80V227.80M1525.00 180.80H1533.00M1525.00 227.80H1533.00" stroke="#5a5a5a" stroke-width="1.5" fill="none"/>
<circle cx="1021.20" cy="423.20" r="6.6" fill="none" stroke="#000" stroke-width="1.5"/>
<circle cx="1017.70" cy="487.10" r="6.6" fill="none" stroke="#000" stroke-width="1.5"/>
<circle cx="1061.30" cy="393.40" r="7.45" fill="#000"/>
<circle cx="1103.10" cy="405.10" r="7.45" fill="#000"/>
<circle cx="1149.40" cy="188.20" r="6.6" fill="none" stroke="#000" stroke-width="1.5"/>
<circle cx="1158.00" cy="346.20" r="7.45" fill="#000"/>
<circle cx="1297.00" cy="391.90" r="7.45" fill="#000"/>
<circle cx="1370.90" cy="289.70" r="7.45" fill="#000"/>
<circle cx="1527.50" cy="202.70" r="7.45" fill="#000"/>
<path d="M1063.4 394.4L1065.1 380.1M1065.1 380.1H1071.6" stroke="#bdbdbd" stroke-width="1.4" fill="none"/>
<text x="1040.3" y="432.8" font-family="'Liberation Sans', Arial, Helvetica, sans-serif" font-size="23.5">I-P2</text>
<text x="1036.6" y="494.4" font-family="'Liberation Sans', Arial, Helvetica, sans-serif" font-size="23.5">I-P264</text>
<text x="1076.6" y="387.6" font-family="'Liberation Sans', Arial, Helvetica, sans-serif" font-size="23.5">I-P25</text>
<text x="1120.8" y="412.7" font-family="'Liberation Sans', Arial, Helvetica, sans-serif" font-size="23.5">II-P341</text>
<text x="1168.2" y="194.9" font-family="'Liberation Sans', Arial, Helvetica, sans-serif" font-size="23.5">II-P79</text>
<text x="1175.2" y="353.9" font-family="'Liberation Sans', Arial, Helvetica, sans-serif" font-size="23.5">II-P76</text>
<text x="1313.8" y="398.7" font-family="'Liberation Sans', Arial, Helvetica, sans-serif" font-size="23.5">II-P104</text>
<text x="1388.7" y="297.8" font-family="'Liberation Sans', Arial, Helvetica, sans-serif" font-size="23.5">II-P336</text>
<text x="1545.3" y="209.8" font-family="'Liberation Sans', Arial, Helvetica, sans-serif" font-size="23.5">II-P24</text>
<text x="1511.5" y="43.4" font-family="'Liberation Sans', Arial, Helvetica, sans-serif" font-size="30.5">r = 0.77</text>
<text transform="translate(891.5,306.4) rotate(-90)" text-anchor="middle" font-family="'Liberation Sans', Arial, Helvetica, sans-serif" font-size="30">Average microarray intensity</text>
<text x="1172.9" y="706.9" font-family="'Liberation Sans', Arial, Helvetica, sans-serif" font-size="30">FA B<tspan font-size="20" dy="4.8">max</tspan><tspan dy="-4.8">/</tspan><tspan font-style="italic">K</tspan><tspan font-size="20.5" dy="4.8">D</tspan><tspan dy="-4.8" x="1322.9">(mA · μM)</tspan></text>
<text x="882.3" y="705.4" font-family="'Liberation Sans', Arial, Helvetica, sans-serif" font-size="30" font-weight="bold">b</text>
</svg>
</body></html>
